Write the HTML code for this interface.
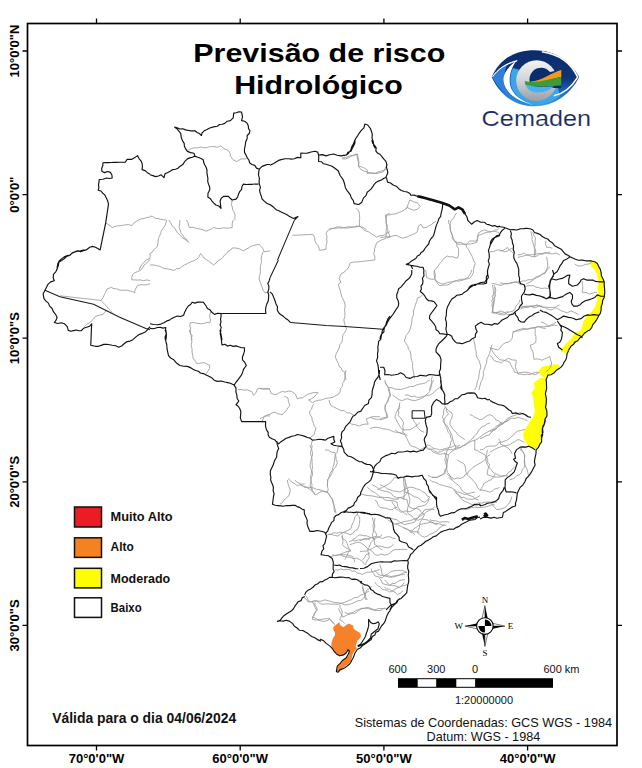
<!DOCTYPE html>
<html><head><meta charset="utf-8"><style>
html,body{margin:0;padding:0;background:#fff;}
body{width:642px;height:768px;overflow:hidden;position:relative;font-family:"Liberation Sans",sans-serif;}
svg{position:absolute;left:0;top:0;}
text{font-family:"Liberation Sans",sans-serif;}
</style></head><body>
<svg width="642" height="768" viewBox="0 0 642 768">
<defs>
<linearGradient id="eyeg" x1="0" y1="0" x2="0" y2="1">
<stop offset="0" stop-color="#0c2d6c"/><stop offset="0.5" stop-color="#0e3375"/><stop offset="0.72" stop-color="#1c62c0"/><stop offset="1" stop-color="#3b9fe8"/>
</linearGradient>
<linearGradient id="ringg" x1="0" y1="0" x2="0" y2="1">
<stop offset="0" stop-color="#f4f4f4"/><stop offset="0.5" stop-color="#d0d3d6"/><stop offset="1" stop-color="#9a9fa6"/>
</linearGradient>
</defs>
<!-- frame -->
<g stroke="#000" fill="none">
<rect x="27.5" y="23.5" width="589.5" height="722" stroke-width="1.7"/>
<path d="M96.5,18.5V23.5 M240.2,18.5V23.5 M383.9,18.5V23.5 M527.6,18.5V23.5 M96.5,745.5V750.5 M240.2,745.5V750.5 M383.9,745.5V750.5 M527.6,745.5V750.5 M22.5,51H27.5 M22.5,194.6H27.5 M22.5,338.2H27.5 M22.5,481.8H27.5 M22.5,625.4H27.5 M617,51H622 M617,194.6H622 M617,338.2H622 M617,481.8H622 M617,625.4H622" stroke-width="1.3"/>
</g>
<!-- axis labels -->
<g font-size="13" font-weight="bold" fill="#000" text-anchor="middle">
<text x="96.5" y="763">70°0'0"W</text>
<text x="240.2" y="763">60°0'0"W</text>
<text x="383.9" y="763">50°0'0"W</text>
<text x="527.6" y="763">40°0'0"W</text>
<text transform="translate(19,51) rotate(-90)">10°0'0"N</text>
<text transform="translate(19,194.6) rotate(-90)">0°0'0"</text>
<text transform="translate(19,338.2) rotate(-90)">10°0'0"S</text>
<text transform="translate(19,481.8) rotate(-90)">20°0'0"S</text>
<text transform="translate(19,625.4) rotate(-90)">30°0'0"S</text>
</g>
<!-- title -->
<g font-size="26.5" font-weight="bold" fill="#000">
<text x="193.3" y="62.2" textLength="252" lengthAdjust="spacingAndGlyphs">Previsão de risco</text>
<text x="234.2" y="93.8" textLength="168.5" lengthAdjust="spacingAndGlyphs">Hidrológico</text>
</g>
<!-- logo -->
<g id="logo">
<path d="M491.7,77.1 C499,60 514,50.2 534.4,50.2 C555,50.2 570,61 579.2,77.1 C570,95 554,106.3 534.4,106.3 C514,106.3 499,94 491.7,77.1Z" fill="url(#eyeg)"/>
<path d="M492.3,77.5 C497,71 503,66 508,63.5 C504,70 503.5,80 506,88 C509,96 520,103 534.4,106 C516,106 502,94 492.3,77.5Z" fill="#2a80da"/>
<path d="M516.5,60.5 C508,67 503,74 503.5,80 C504,90 513,101 537,105.8 C526,103 516,98 512,90 C508,83 509,71 516.5,60.5Z" fill="#fff"/>
<path d="M492.5,76.8 C498,69 505,64.5 517.2,60.7 C506,63 498,69 492.5,76.8Z" fill="none" stroke="#fff" stroke-width="0.9"/>
<path d="M513,68 C509,76 509.5,86 514,92 C519,99 528,103.5 537,105 C548,104 555,100 560,96 L556,80 Z" fill="#3aa6ea"/>
<path d="M541.8,51.7 C558,54 571,63 577.7,77.1 C571,88 563,94 553.8,95.8" fill="none" stroke="#fff" stroke-width="1.6"/>
<circle cx="536.6" cy="80.6" r="20.4" fill="url(#ringg)"/>
<path d="M536.6,68.6 A12,12 0 1 0 550,88 L561.3,88 L561.3,69.5 L550,72 A12,12 0 0 0 536.6,68.6Z" fill="#0b2d6b"/>
<path d="M531,81.5 C541,81 551,73 561.3,69.7 L561.3,77.1 C551,79 541,83 531,83.5Z" fill="#f39a1e"/>
<path d="M524.6,81 C536,84 548,79 561.3,77 L561.3,85.4 C549,86 536,87.5 525.5,85Z" fill="#3f9c32"/>
<path d="M525.5,85 C536,87.5 548,86.5 554,86.5 C549,91 542,92.6 536.6,92.6 C531,92.6 527,89 525.5,85Z" fill="#48b2ea"/>
<text x="481.6" y="126" font-size="22" fill="#162a5c" stroke="#fff" stroke-width="0.15" textLength="109.5" lengthAdjust="spacingAndGlyphs">Cemaden</text>
</g>
<path d="M538.6,370.5 L542.3,366.7 L549.8,364.9 L557.3,363.9 L560.1,366.7 L555.4,371.4 L549.8,375.1 L545.1,377.9 L540.5,375.1 Z" fill="#ffff00" stroke="none"/>
<path d="M534.9,381.7 L540.5,377.9 L546.1,377.9 L546.1,391.0 L546.1,404.1 L547.0,413.5 L544.2,424.7 L542.3,432.1 L541.4,440.0 L524.6,440.0 L523.6,432.1 L527.4,426.5 L533.0,417.2 L534.9,411.6 L533.9,404.1 L533.0,396.6 L531.1,392.9 L534.9,388.2 L533.9,383.6 Z" fill="#ffff00" stroke="none"/>
<path d="M530.5,420.0 L545.4,420.0 L542.6,429.3 L541.7,438.7 L539.8,444.3 L535.1,449.9 L528.6,446.2 L524.9,440.6 L523.0,435.0 L525.8,427.5 L529.5,423.7 Z" fill="#ffff00" stroke="none"/>
<path d="M589.8,260.6 L594.8,261.8 L598.6,266.2 L601.1,272.4 L602.9,278.7 L604.2,284.9 L604.8,292.4 L604.2,297.4 L602.3,303.6 L601.1,309.8 L598.6,316.0 L594.8,322.3 L589.8,330.0 L587.4,331.0 L582.4,336.0 L577.4,341.0 L571.2,346.0 L568.4,350.4 L566.4,353.2 L560.6,351.5 L561.2,350.0 L564.9,344.8 L571.2,338.5 L574.3,333.6 L581.1,330.0 L583.6,321.0 L587.4,314.8 L591.1,312.3 L594.8,307.3 L597.3,301.1 L596.1,297.4 L598.6,292.4 L597.3,287.4 L598.6,282.4 L597.9,278.7 L597.3,274.9 L594.8,269.9 L591.1,266.2 L589.8,261.2 Z" fill="#ffff00" stroke="none"/>
<path d="M333.6,626.8 L338.2,623.1 L339.2,622.1 L340.1,625.0 L343.4,627.3 L346.2,625.0 L349.0,623.6 L350.8,624.5 L353.2,625.4 L353.6,628.7 L357.4,631.5 L360.2,632.9 L361.1,636.2 L359.3,639.0 L357.4,640.8 L356.4,643.6 L355.5,646.4 L356.9,648.3 L354.6,651.1 L352.7,653.9 L351.8,657.7 L350.8,661.4 L348.0,664.2 L344.3,667.0 L340.6,669.8 L337.8,672.1 L336.4,670.7 L337.3,668.9 L337.8,666.1 L340.1,663.7 L342.4,660.9 L344.3,659.5 L346.6,657.2 L349.0,655.3 L349.0,653.0 L348.0,651.1 L347.1,650.2 L346.6,652.5 L344.3,654.9 L341.5,655.8 L338.7,654.9 L335.9,653.0 L334.0,650.2 L331.7,647.4 L331.2,644.6 L332.1,640.8 L333.1,638.0 L335.0,635.2 L335.0,632.4 L333.1,629.6 Z" fill="#f5822a" stroke="none"/>
<path d="M187.4,150.5 L189.8,149.2 L192.3,148.4 L194.9,147.7 L197.7,147.9 L200.5,146.9 L203.3,147.6 L206.1,147.7 L208.7,147.0 L211.3,146.7 L213.9,146.4 L216.6,147.3 L219.2,146.7 L221.0,145.8 L223.8,148.6 L228.5,150.5 L230.0,153.1 L230.4,156.1 L233.2,159.8 L236.9,161.7 L239.1,160.0 L241.6,158.9 L246.3,158.9 M232.2,200.0 L231.3,204.7 L232.4,207.1 L232.7,209.9 L234.1,212.1 L235.0,214.7 L234.8,217.4 L235.0,220.0 M105.7,222.9 L108.0,224.3 L110.2,225.9 L112.2,227.6 L115.8,226.1 L119.7,225.7 L122.6,225.4 L125.3,224.8 L128.7,224.6 L131.9,225.7 L133.6,223.3 L135.9,221.6 L138.4,220.1 L141.2,218.9 L144.1,218.5 L146.9,217.3 L150.0,217.3 M139.3,270.0 L140.3,267.0 L142.0,264.5 L144.0,262.1 L146.7,259.8 L150.0,258.4 M59.9,295.8 L62.6,296.1 L65.4,296.4 L68.1,296.7 L70.9,297.0 L73.6,297.4 L76.4,297.7 L79.1,298.0 L81.8,298.3 L84.6,298.6 L87.3,298.9 L90.1,299.2 L92.8,299.5 L95.5,299.8 L98.3,300.2 L101.0,300.5 L102.9,302.5 L104.8,304.5 L106.6,306.5 L108.5,308.6 L110.4,310.6 L112.2,312.6 M101.0,300.5 L102.9,297.9 L104.2,295.1 L105.7,292.3 L106.6,289.3 L111.3,287.4 L114.0,288.7 L117.0,288.9 L119.7,290.2 L123.5,290.2 L127.2,290.2 L129.8,290.9 L132.4,291.4 L134.7,293.0 L134.9,290.2 L136.2,287.9 L137.5,285.5 L140.6,284.7 L143.8,284.9 L147.0,284.8 L150.0,283.6 M84.2,326.6 L86.4,324.5 L89.1,323.0 L91.4,321.0 L93.6,318.9 L95.4,316.4 L99.1,315.2 L102.9,314.5 L104.5,312.3 L106.6,310.7 M150.0,259.3 L148.3,261.5 L146.3,263.4 L144.0,265.0 L142.5,268.0 L140.3,270.6 L137.7,271.6 L135.0,272.5 L132.8,274.3 L131.8,277.0 L131.9,279.9 L134.7,279.9 L137.5,280.1 L140.3,279.9 L143.5,280.7 L146.8,279.9 L150.0,280.8 M150.0,264.9 L153.8,265.0 L157.5,265.8 L160.1,266.4 L162.4,267.8 L165.0,268.6 L168.1,268.9 L171.2,269.7 L174.3,270.5 L176.5,268.7 L179.6,268.5 L181.8,266.7 L184.5,265.0 L187.4,263.6 L190.2,262.1 L193.5,260.8 L196.7,259.3 L199.1,256.8 L200.5,253.6 L202.4,255.4 L203.8,257.8 L206.1,259.3 L208.6,261.1 L211.0,263.0 L213.6,264.9 L216.1,263.0 L218.1,260.5 L221.0,259.3 L222.8,257.3 L224.4,255.2 L226.6,253.6 L228.0,251.2 L230.7,250.2 L232.2,248.0 L236.0,248.0 L239.7,249.0 L243.5,250.8 L245.9,249.2 L248.6,248.0 L250.9,246.2 L253.8,245.6 L256.5,244.7 L259.3,244.3 L261.2,246.7 L263.1,249.0 L264.0,251.8 L267.0,251.4 L270.0,250.8 M263.1,251.8 L261.7,255.4 L261.2,259.3 L261.5,262.4 L260.5,265.5 L260.3,268.6 L260.4,271.4 L260.1,274.2 L259.2,277.0 L259.3,279.8 L260.3,282.3 L261.1,284.8 L262.1,287.3 L263.2,290.3 L265.0,292.9 L268.7,292.0 M150.0,253.6 L152.3,252.2 L153.7,249.8 L155.7,248.2 L157.5,246.2 L158.0,242.4 L158.4,238.7 L159.4,236.2 L160.6,233.8 L161.2,231.2 L163.0,228.4 L165.0,225.6 L165.9,222.8 L166.8,220.0 M168.7,220.0 L170.6,222.5 L171.9,225.4 L174.3,227.5 L175.9,230.1 L177.6,232.8 L179.9,235.0 L182.3,237.8 L185.5,239.6 L189.3,242.4 M179.9,220.0 L179.8,223.8 L179.0,227.5 L180.1,230.0 L180.9,232.8 L182.7,235.0 L183.9,237.4 L186.3,239.0 L187.4,241.5 M186.4,220.0 L187.9,222.3 L188.4,225.0 L189.3,227.5 L193.1,227.3 L196.7,228.4 L200.0,229.0 L203.1,229.7 L206.1,231.2 L208.7,230.2 L211.2,229.1 L213.6,227.5 L217.2,228.5 L221.0,228.4 L223.8,227.7 L226.7,228.3 L229.5,227.9 L232.2,227.5 L232.2,223.7 L233.2,220.0 M210.7,311.6 L209.9,314.3 L209.6,317.1 L210.5,320.0 L209.8,322.8 L206.6,322.4 L203.6,323.6 L200.5,323.7 L197.0,323.4 L193.7,322.4 L190.2,322.8 L189.7,325.9 L190.7,329.0 L190.2,332.1 L190.9,334.7 L191.4,337.4 L192.1,340.0 M342.0,158.7 L345.3,158.9 L348.5,157.8 L351.2,156.2 L353.9,154.8 L356.9,154.0 L357.3,157.3 L357.9,160.6 L358.7,163.3 L358.8,166.2 L361.8,166.9 L364.6,168.2 L367.2,169.9 L367.2,173.6 L370.9,173.0 L374.7,173.6 L377.0,172.3 L379.6,171.5 L382.1,170.8 L386.8,169.0 M356.0,208.2 L358.8,211.0 L359.5,214.7 L359.7,218.5 L359.3,222.2 L359.7,226.0 L361.8,227.6 L363.5,229.7 L366.0,231.0 L368.7,231.8 L370.9,233.5 L373.9,235.1 L376.5,237.2 L380.1,235.6 L384.0,235.3 L386.8,233.1 L390.0,231.6 M292.4,235.3 L295.4,235.2 L298.3,235.1 L301.2,234.9 L304.2,234.8 L307.1,234.7 L310.1,234.5 L313.0,234.4 L314.6,237.5 L314.9,240.9 L316.4,243.9 L318.6,246.5 L319.5,250.3 L322.8,249.9 L326.1,249.3 L326.1,245.5 L327.0,241.9 L326.7,239.1 L327.0,236.2 L326.1,233.5 L327.5,230.8 L329.8,228.8 L333.7,228.3 L337.3,226.9 L340.1,227.0 L342.9,227.4 L345.7,228.1 L348.5,227.9 L352.2,227.2 L356.0,226.9 L359.7,226.0 M390.0,212.9 L386.8,214.8 L386.3,218.5 L385.9,222.2 L386.5,226.0 L387.8,229.7 L387.8,232.4 L389.5,234.6 L390.0,237.2 M390.0,237.2 L386.9,237.7 L384.0,239.1 L381.4,240.0 L378.9,241.4 L376.5,242.8 L375.7,245.7 L374.7,248.4 L374.4,251.3 L373.7,254.0 L374.9,256.9 L374.7,260.0 M380.0,237.3 L383.8,237.2 L387.5,236.4 L391.3,236.4 L395.0,235.4 L397.6,235.8 L399.9,237.3 L402.4,238.2 L404.9,237.3 L407.6,236.8 L409.9,235.4 L412.6,234.6 L415.1,233.4 L417.4,231.7 L418.0,228.9 L418.3,226.1 L421.1,224.2 L423.0,227.9 L426.0,227.6 L428.6,226.1 L431.6,224.4 L434.2,222.3 L436.1,221.4 M385.6,237.3 L386.4,234.5 L386.1,231.6 L386.3,228.8 L387.5,226.1 L386.5,223.4 L386.3,220.5 L385.5,217.8 L385.6,214.9 L388.8,215.0 L391.8,214.3 L395.0,213.9 L398.1,212.9 L401.3,211.6 L404.3,210.2 L407.1,207.4 L410.3,209.0 L413.6,210.2 L417.4,209.3 L420.2,206.4 L417.4,202.7 L413.6,201.8 L409.9,199.9 L408.0,204.6 L406.2,209.3 M456.6,213.0 L454.8,215.5 L453.5,218.4 L451.0,220.5 L450.3,223.5 L450.0,226.7 L450.1,229.8 L451.3,232.6 L452.4,235.4 L453.4,238.3 L454.8,241.0 L456.6,243.2 L456.9,246.2 L458.5,248.5 L458.6,251.7 L458.5,254.8 L457.6,257.9 L454.9,257.7 L452.5,256.6 L449.8,256.9 L447.3,256.0 L445.2,257.6 L443.0,259.2 L441.7,261.6 L439.8,263.5 L438.1,266.1 L436.1,268.5 L434.2,270.9 L434.2,274.1 L434.4,277.2 L435.1,280.3 L438.3,282.3 L441.7,284.0 L444.8,283.6 L447.8,282.2 L451.0,282.1 L453.7,281.2 L456.6,280.9 L459.5,281.1 L462.2,280.3 L465.9,279.1 L469.7,278.4 L471.7,275.7 L473.5,272.8 L473.4,269.5 L474.1,266.4 L475.3,263.5 L473.6,260.8 L472.8,257.7 L471.4,254.9 L469.7,252.2 L468.7,249.6 L466.9,247.4 L466.0,244.8 L467.9,242.9 L469.7,241.0 L473.5,241.0 L477.2,241.0 L477.6,237.3 L478.1,233.6 L481.1,231.2 L484.7,229.8 L488.3,231.3 L492.1,231.7 L494.4,230.0 L497.5,229.8 L499.6,227.9 M454.8,241.0 L457.4,242.6 L460.6,242.2 L463.2,243.8 L466.0,244.8 M500.0,251.1 L502.8,250.5 L505.2,249.1 L507.5,247.4 L509.0,249.6 L511.1,251.3 L513.1,253.0 M517.8,254.9 L521.2,254.5 L524.3,253.0 L526.5,254.8 L529.3,255.5 L531.8,256.7 L534.6,256.6 L537.4,255.8 L539.6,254.2 L542.5,254.3 L544.9,253.0 L548.6,253.4 L552.3,253.9 L556.1,253.0 L559.8,254.9 M532.7,232.4 L533.8,235.4 L535.5,238.0 L535.0,241.1 L535.2,244.3 L534.6,247.4 L535.7,251.0 L535.5,254.9 M545.8,240.8 L545.6,244.2 L546.7,247.4 L549.6,247.3 L552.3,248.3 M546.7,256.7 L547.1,259.8 L547.6,262.9 L547.7,266.1 L547.0,268.7 L545.5,270.9 L544.9,273.6 L542.0,274.2 L540.0,276.4 L537.4,277.3 L534.4,279.0 L531.8,281.0 L529.1,282.7 L526.2,283.8 M500.0,282.9 L503.7,283.4 L507.5,283.8 L511.2,282.7 L515.0,282.0 L518.0,282.9 L520.6,284.8 M524.3,286.6 L527.4,285.8 L530.5,285.6 L533.6,285.7 L535.9,287.2 L538.6,287.6 L541.1,288.5 L544.9,288.1 L548.6,288.5 M574.8,264.2 L578.5,266.1 L582.4,265.7 L586.0,264.2 L589.0,264.0 L591.6,262.3 M582.2,281.0 L582.3,283.8 L582.8,286.6 L582.7,289.4 L582.2,292.2 L586.1,292.6 L589.7,294.1 L593.4,292.9 L597.2,292.2 M520.6,309.1 L524.2,307.5 L528.0,307.2 L531.1,306.2 L534.2,305.6 L537.4,305.3 L540.5,306.1 L543.5,307.1 L546.7,307.2 L550.5,307.6 L554.2,307.2 L556.8,308.3 L559.2,309.6 L561.7,310.9 L564.5,311.9 L567.3,312.8 L571.0,310.9 L573.6,312.0 L576.1,313.2 L578.5,314.7 M500.0,310.9 L502.8,311.6 L505.1,313.1 L507.5,314.7 L510.5,314.4 L513.1,312.8 M541.1,322.1 L543.9,322.9 L546.1,324.6 L548.6,325.9 L551.2,324.8 L553.8,323.9 L556.1,322.1 M342.4,157.7 L345.3,157.7 L348.0,156.7 L350.7,155.6 L353.6,155.8 L357.4,153.9 L358.3,158.6 L359.0,162.3 L358.3,166.1 L361.1,169.8 L363.8,171.0 L366.7,171.7 L369.7,172.9 L373.0,172.9 L376.1,173.6 L379.8,172.7 L383.6,171.7 L385.4,167.9 L388.2,164.2 M329.3,230.0 L332.3,228.5 L335.5,228.3 L338.7,227.8 L341.9,228.1 L345.0,227.6 L348.0,226.8 L351.2,227.0 L354.3,226.9 L357.4,225.9 L360.6,226.8 L363.8,227.8 L366.7,229.6 M374.7,260.0 L371.9,260.3 L369.1,260.6 L366.3,260.9 L363.5,261.2 L360.7,261.6 L357.9,261.9 L354.1,262.0 L350.4,262.8 L348.5,267.5 L346.4,270.1 L343.9,272.3 L341.0,274.0 L339.2,278.7 L341.0,282.4 L338.2,284.3 L339.1,287.1 L340.1,289.9 L340.9,293.7 L342.0,297.4 L343.5,300.1 L344.8,303.0 L345.2,306.1 L344.6,309.2 L344.8,312.3 L345.0,316.2 L343.8,319.8 L344.8,324.5 L346.6,329.2 L345.0,332.1 L342.9,334.8 L342.5,338.5 L342.0,342.2 L339.9,344.7 L339.2,347.9 L337.7,350.9 L336.1,353.9 L335.4,357.2 L336.7,360.3 L338.3,363.3 L339.2,366.5 L341.3,368.1 L342.4,370.8 L344.8,372.1 L344.8,374.8 L345.7,377.3 L345.7,380.0 M434.2,270.0 L434.9,272.8 L435.5,275.6 L434.9,278.5 L436.1,281.2 L437.8,283.7 L439.8,285.9 L443.5,285.1 L447.3,285.0 L449.9,284.0 L452.2,282.2 L454.8,281.2 L457.8,280.3 L460.9,279.2 L464.1,279.3 L467.9,277.5 L469.4,275.2 L470.9,272.8 L471.6,270.0 M425.8,270.0 L426.1,273.8 L426.7,277.5 L430.3,279.1 L434.2,279.3 M423.0,294.3 L420.6,296.8 L417.4,298.0 L416.8,301.3 L415.5,304.3 L414.6,307.4 L413.4,311.0 L413.6,314.9 L412.0,318.4 L411.8,322.3 L411.0,326.1 L409.9,329.8 L408.3,332.8 L406.2,335.4 L405.3,338.3 L404.3,341.0 L406.2,343.8 L408.0,346.6 L408.4,349.4 L410.4,351.5 L410.8,354.1 L411.0,357.3 L411.7,360.4 L412.7,363.5 L412.5,366.6 L412.9,369.7 L413.6,372.8 L414.0,375.6 L414.6,378.4 M473.5,339.2 L474.3,342.2 L475.0,345.3 L475.3,348.5 L476.2,351.6 L476.2,354.8 L477.2,357.9 L479.0,360.7 L480.1,363.9 L480.9,367.2 L479.6,370.8 L479.1,374.7 L478.5,378.5 L477.2,382.1 L476.9,385.0 L476.0,387.6 L474.4,390.0 M492.1,344.8 L491.1,347.5 L490.3,350.4 L489.6,353.3 L488.4,356.0 L486.8,359.5 L486.5,363.5 L485.1,366.1 L484.7,369.1 L483.2,371.5 L483.5,374.4 L483.0,377.1 L482.3,379.7 L480.9,382.1 L480.3,384.8 L479.4,387.3 L479.1,390.0 M494.0,285.0 L495.0,287.7 L495.9,290.6 L494.4,293.6 L492.1,296.2 L493.2,299.9 L494.0,303.6 L493.2,306.7 L492.5,309.8 L492.1,313.0 L494.9,312.7 L497.5,312.3 L500.0,311.1 M432.3,376.5 L431.5,379.6 L431.6,382.9 L430.5,385.9 L429.5,390.0 M490.0,348.0 L493.8,348.8 L497.5,349.9 L499.7,348.4 L501.2,346.1 L503.1,344.3 L505.4,342.7 L508.3,342.2 L510.6,340.6 L512.4,337.7 L512.5,334.1 L514.3,331.2 L516.9,331.0 L519.6,330.6 L522.1,329.7 L524.7,329.5 L527.4,329.3 L531.0,327.9 L534.9,327.5 L537.6,326.8 L540.4,326.6 L543.3,326.9 L546.1,326.5 L548.9,326.5 L551.6,325.6 L554.4,325.1 L557.3,325.6 M534.9,327.5 L535.3,330.5 L535.0,333.5 L535.9,336.4 L535.9,339.4 L535.8,342.4 L533.2,344.2 L530.2,345.2 L531.2,348.7 L533.0,351.8 L533.4,355.5 L533.9,359.3 L536.8,358.9 L539.6,359.3 L542.3,360.2 L544.8,358.8 L547.4,357.8 L549.8,356.4 L550.5,359.8 L551.7,363.0 L550.8,366.5 L548.9,369.5 L546.1,371.4 M490.0,355.5 L492.3,357.5 L493.7,360.2 L496.1,361.4 L498.8,361.9 L501.2,363.0 L503.5,361.2 L506.0,359.6 L508.7,358.3 L512.3,359.9 L516.2,360.2 L516.0,363.5 L515.2,366.7 L516.1,369.3 L517.3,371.6 L518.0,374.2 L521.2,374.1 L524.3,374.8 L527.4,374.2 L530.3,374.5 L533.0,373.1 L535.7,372.4 L538.6,372.3 M490.0,432.1 L492.6,430.5 L494.4,428.1 L496.5,426.0 L499.3,424.7 L502.0,423.8 L504.0,421.8 L506.6,420.9 L508.7,419.1 L511.8,418.3 L515.0,418.4 L518.0,417.2 L521.2,418.4 L524.5,419.2 L527.4,420.9 M189.3,330.0 L190.2,333.0 L192.1,335.6 L191.3,338.7 L191.9,341.9 L191.1,345.0 L192.0,348.6 L192.1,352.4 L192.7,355.2 L193.0,358.0 L195.8,361.8 L196.7,363.6 L200.5,363.2 L204.2,362.7 L207.1,364.0 L209.8,365.5 L209.4,368.5 L207.9,371.1 L206.1,373.9 M237.9,389.8 L241.0,389.4 L244.1,390.2 L247.2,389.8 L251.9,391.7 L253.7,395.4 L256.1,392.4 L257.5,388.9 L260.6,388.2 L263.7,389.0 L266.9,389.3 L270.0,388.9 M262.1,421.6 L264.0,416.9 L266.9,415.8 L270.0,416.0 M260.0,388.7 L263.1,389.1 L266.2,388.2 L269.3,388.7 L271.2,393.4 L273.9,394.4 L276.8,394.3 L279.5,392.6 L282.4,391.5 L285.5,392.0 L288.7,391.0 L291.8,391.5 L295.5,394.3 L297.4,399.0 L299.9,398.0 L302.6,397.7 L304.9,396.2 L307.5,394.4 L310.5,393.4 L314.2,392.5 L317.9,392.4 L316.1,394.8 L314.2,397.1 L311.5,398.7 L308.6,399.9 L312.3,402.7 L315.3,401.1 L318.4,400.4 L321.7,399.9 L325.3,398.5 L329.2,398.0 L332.5,397.4 L335.5,395.8 L338.5,394.3 L340.2,391.9 L340.3,388.9 L342.3,386.6 L342.5,383.6 L344.1,381.2 L344.6,378.4 L345.2,375.6 L345.3,372.8 L346.0,370.0 M329.2,399.9 L329.6,402.9 L331.0,405.5 L333.5,406.8 L336.0,408.1 L338.5,409.3 L341.1,410.7 L344.3,410.6 L346.7,412.8 L349.7,413.0 L353.5,414.9 M260.0,418.6 L262.6,417.5 L264.9,416.0 L267.5,414.9 L270.1,414.3 L272.3,412.7 L275.0,412.1 L277.2,413.7 L279.9,414.0 L282.4,414.9 L284.1,412.4 L286.5,410.4 L288.0,407.8 L289.9,405.5 L288.5,401.9 L288.0,398.0 L284.3,396.2 M314.2,403.6 L312.3,405.9 L311.7,409.0 L309.5,411.1 L310.0,414.4 L311.8,417.2 L312.3,420.5 L313.4,423.1 L314.2,425.8 L316.1,427.9 L315.0,431.2 L314.2,434.5 L310.5,437.3 M349.7,423.3 L352.8,424.4 L356.0,424.9 L359.1,426.1 L362.0,424.7 L365.2,424.1 L368.4,424.2 L367.0,421.6 L366.5,418.6 L369.4,417.8 L372.1,416.7 L374.8,416.6 L377.4,416.7 L380.0,416.7 M312.3,441.0 L311.4,443.6 L312.1,446.3 L311.6,448.9 L310.6,451.5 L310.5,454.1 L311.6,456.8 L312.1,459.6 L312.1,462.5 L312.3,465.3 L312.5,468.2 L311.6,471.0 L311.3,473.8 L310.5,476.5 L310.7,479.3 L311.1,481.9 L312.0,484.6 L311.8,487.3 L312.3,490.0 M338.5,446.6 L337.6,449.5 L337.2,452.4 L335.1,454.8 L334.8,457.9 L334.5,461.0 L334.0,464.2 L332.9,467.2 L332.2,470.5 L330.2,473.3 L329.2,476.5 L328.0,479.5 L327.5,482.7 L327.3,485.9 M288.0,478.4 L290.0,480.2 L291.8,482.1 L294.8,483.7 L297.4,485.9 L300.9,484.2 L304.9,484.0 M385.0,381.9 L386.5,384.9 L388.7,387.5 L389.6,391.2 L390.6,395.0 L389.6,397.6 L387.9,399.8 L386.8,402.4 L385.2,406.0 L385.0,409.9 L386.3,413.5 L386.8,417.4 L382.9,417.8 L379.3,419.3 L376.1,419.3 L373.0,418.4 L370.0,417.4 M388.7,387.5 L391.9,387.7 L394.9,389.1 L398.0,389.3 L401.3,389.4 L404.3,388.5 L407.4,387.5 L410.3,386.5 L413.5,386.5 L416.3,385.0 L419.3,384.1 L422.3,383.7 L425.1,383.0 L427.4,381.4 L429.8,380.0 M392.4,395.0 L394.6,396.6 L397.0,398.0 L399.1,399.8 L401.8,400.6 L404.6,399.6 L407.4,398.7 L411.0,400.1 L414.9,400.6 L418.1,399.6 L421.3,398.6 L424.2,396.8 L426.0,394.9 L428.2,393.3 L429.8,391.2 L430.8,388.4 L431.4,385.5 L432.2,382.7 L433.6,380.0 M399.9,402.4 L399.4,405.0 L399.8,407.8 L398.2,410.2 L398.9,413.0 L398.0,415.5 L400.5,417.6 L402.2,420.1 L403.6,423.0 L402.7,426.0 L403.3,429.2 L402.7,432.3 L405.4,433.8 L407.4,436.1 M370.0,428.6 L373.0,427.6 L376.2,427.3 L379.3,427.7 L382.4,428.6 L385.5,429.1 L388.7,429.5 L391.1,430.7 L393.6,431.7 L396.2,432.3 L400.1,432.6 L403.6,434.2 M413.0,419.3 L414.3,421.7 L416.0,423.8 L416.8,426.5 L418.6,428.6 L421.1,430.9 L424.2,432.3 M426.1,447.3 L428.1,449.2 L431.1,449.5 L432.8,452.0 L435.4,452.9 L437.9,453.9 L440.6,454.3 L443.4,453.4 L446.0,454.0 L448.5,454.8 L450.6,452.4 L453.1,450.5 L456.0,449.2 L458.7,448.4 L461.2,447.1 L463.5,445.4 L466.1,443.7 L468.7,442.1 L470.9,439.8 L472.9,438.1 L474.4,435.8 L476.5,434.2 L477.9,431.4 L479.8,428.9 L482.1,426.7 L484.9,425.8 L487.2,423.8 L490.0,423.0 M448.5,454.8 L448.1,457.9 L447.4,461.0 L446.6,464.1 L446.7,467.4 L445.7,470.4 L444.8,473.5 L442.4,475.0 L439.6,475.7 L437.3,477.2 L434.5,477.4 L431.7,477.2 L427.9,475.3 M444.8,406.2 L446.3,408.5 L446.6,411.5 L448.5,413.6 L446.6,416.1 L444.3,418.3 L442.9,421.1 L444.6,423.7 L447.2,425.7 L448.5,428.6 L449.9,431.0 L451.1,433.5 L452.2,436.1 L452.8,439.9 L454.1,443.6 L455.3,446.3 L456.0,449.2 M446.6,473.5 L448.9,475.6 L451.6,477.2 L454.1,479.1 L457.1,478.0 L460.4,478.4 L463.5,477.2 L464.9,474.9 L467.5,473.8 L468.7,471.2 L470.9,469.7 L473.0,467.3 L475.7,465.6 L478.4,464.1 L481.1,462.6 L483.8,460.9 L485.9,458.5 L487.4,456.1 L490.0,454.8 M448.5,477.2 L450.8,479.1 L453.2,480.9 L455.2,483.2 L457.9,484.7 L460.1,486.9 L461.6,489.7 L463.5,492.1 L466.1,493.2 L468.2,495.1 L470.9,495.9 L473.6,496.9 L475.6,499.2 L478.4,500.0 M371.9,484.7 L374.4,485.8 L376.8,487.1 L378.7,489.1 L381.2,490.3 L385.0,491.2 L388.7,492.1 L391.4,493.6 L393.2,496.0 L396.1,497.3 L398.0,499.6 M403.6,477.2 L403.4,480.0 L403.8,482.8 L403.9,485.6 L404.6,488.4 L404.2,491.3 L404.3,494.2 L404.0,497.1 L403.6,500.0 M480.0,438.7 L483.1,437.5 L486.0,435.7 L489.3,435.0 L491.0,432.9 L492.8,430.9 L495.5,429.8 L496.8,427.5 L498.9,425.9 L500.1,423.3 L502.4,421.9 M480.0,449.9 L483.4,449.3 L486.0,446.9 L489.3,446.2 L492.1,446.0 L495.0,446.2 L497.3,444.8 L498.7,442.4 L502.5,441.9 L506.2,440.6 L508.9,439.0 L511.1,436.7 L513.6,435.0 L515.2,432.8 L517.4,431.2 L521.2,430.5 L524.9,429.3 M498.7,438.7 L500.2,441.3 L500.6,444.3 L503.2,445.2 L505.6,446.6 L508.0,448.0 L510.5,450.5 L511.8,453.6 M487.5,449.9 L486.7,453.7 L485.6,457.4 L486.1,461.2 L487.5,464.9 L489.1,467.5 L491.2,469.8 L493.1,472.3 L495.5,473.8 L498.1,474.8 L500.6,476.1 L504.3,475.5 L508.0,476.1 M521.1,448.0 L522.2,450.6 L523.7,453.0 L524.9,455.5 L524.5,458.6 L524.2,461.7 L524.9,464.9 L526.7,468.6 L527.8,472.3 L528.6,476.1 M480.0,491.0 L481.3,488.6 L482.8,486.2 L483.7,483.6 L486.2,482.2 L488.5,480.7 L491.2,479.8 L493.4,477.2 L495.0,474.2 M491.2,502.2 L492.6,505.1 L494.6,507.5 L496.8,509.7 L500.6,509.1 L504.3,507.9 L506.5,506.4 L508.2,504.3 L509.9,502.2 L511.0,499.5 L511.8,496.6 M287.4,480.0 L287.9,483.3 L288.8,486.4 L290.2,489.3 L289.8,492.2 L289.3,495.0 L287.6,497.0 L285.5,498.6 L283.6,500.6 L282.2,502.8 L279.9,504.3 M294.9,480.0 L297.1,482.3 L300.0,483.6 L302.3,485.6 L304.6,487.3 L307.5,487.8 L309.8,489.3 L311.8,491.1 L313.8,492.8 L315.4,495.0 L317.9,493.6 L320.2,492.0 L322.9,491.2 L325.9,491.4 L328.5,493.1 L330.1,496.1 L332.2,498.7 L333.5,502.4 L334.1,506.2 L335.4,509.8 L336.0,513.6 M328.5,534.2 L331.7,534.5 L334.7,535.4 L337.9,536.1 L340.6,534.1 L343.5,532.3 L346.0,531.3 L348.5,530.1 L350.9,528.6 L351.7,525.7 L352.8,523.0 L354.3,520.4 L354.7,517.4 L357.5,513.6 M341.6,536.1 L343.0,538.9 L345.9,540.7 L347.2,543.6 L348.0,546.3 L349.1,548.8 L350.9,551.0 L347.1,551.5 L343.5,552.9 L339.7,554.8 M349.1,541.7 L352.1,540.5 L355.4,540.9 L358.4,539.8 L361.3,540.0 L364.2,539.1 L367.1,539.1 L370.0,539.8 M332.2,554.8 L335.0,555.4 L337.9,555.0 L340.7,554.4 L343.5,554.8 L346.7,554.8 L349.8,555.5 L352.8,556.6 L354.1,559.3 L354.7,562.2 M362.1,560.4 L364.4,557.8 L365.9,554.8 L370.0,552.9 M362.1,584.7 L363.3,588.4 L364.0,592.1 L365.1,594.6 L364.7,597.5 L365.9,600.0 M360.0,493.7 L363.1,494.6 L366.1,495.4 L369.3,495.6 L372.5,496.0 L375.6,496.6 L378.7,497.5 L381.8,497.2 L384.9,497.6 L388.0,497.5 L391.1,498.3 L394.2,499.1 L397.4,499.3 L399.6,497.5 L402.5,497.2 L404.9,495.6 L407.2,493.1 L408.6,490.0 M391.8,501.2 L393.0,503.7 L394.9,505.9 L395.5,508.7 L398.5,510.3 L401.1,512.4 L403.8,511.2 L406.7,511.0 L409.6,511.7 L412.3,510.6 L415.2,508.8 L417.9,506.8 L421.7,506.1 L425.4,505.0 L427.7,502.4 L429.2,499.3 M395.5,523.6 L399.4,523.3 L403.0,521.8 L406.1,521.3 L409.3,520.7 L412.3,519.9 L414.9,518.8 L417.5,517.7 L419.8,516.2 L422.2,514.9 L424.6,513.6 L426.6,511.6 L429.2,510.6 L432.1,508.9 L434.8,506.8 M403.0,527.4 L406.1,528.6 L409.1,530.2 L412.3,531.1 L413.8,528.8 L416.1,527.4 L418.4,525.7 L420.7,524.3 L423.6,523.6 L427.4,523.1 L431.0,521.8 L434.6,523.3 L438.5,523.6 L442.2,524.8 L446.0,525.5 M375.0,518.0 L374.5,521.2 L373.2,524.2 L373.1,527.4 L373.9,530.1 L375.5,532.4 L376.8,534.9 L375.2,537.6 L373.3,540.0 L371.2,542.3 L370.1,544.9 L369.0,547.4 L367.5,549.8 L368.5,553.5 L369.3,557.3 L367.9,559.7 L366.3,562.0 L365.6,564.8 M360.0,540.5 L363.6,538.9 L367.5,538.6 L371.2,537.8 L375.0,536.7 L378.9,537.0 L382.4,538.6 L386.0,537.1 L389.9,536.7 L392.6,538.1 L395.5,538.6 M360.0,551.7 L363.1,551.2 L366.4,551.1 L369.3,549.8 L372.4,548.5 L375.3,546.6 L378.7,546.1 L381.8,546.5 L384.9,547.5 L388.0,547.9 L391.2,546.6 L393.6,544.2 M371.2,568.5 L371.8,571.3 L373.7,573.5 L375.0,576.0 L378.7,576.8 L382.4,577.9 L384.6,575.5 L387.5,574.3 L389.9,572.2 L393.5,570.9 L397.4,570.4 L400.6,570.5 L403.8,570.9 L406.7,572.2 M378.7,577.9 L381.2,580.2 L382.4,583.5 L386.1,584.7 L389.9,585.3 L392.1,583.6 L395.2,583.5 L397.4,581.6 L401.0,580.1 L404.9,579.7 M384.3,587.2 L386.5,588.9 L389.5,589.2 L391.8,590.9 L395.0,592.2 L397.4,594.7 L400.4,593.1 L403.0,590.9 M453.5,490.0 L455.6,491.6 L456.9,494.0 L459.4,495.3 L460.9,497.5 L463.8,497.3 L466.5,498.8 L469.3,499.2 L472.1,499.3 L475.0,498.6 L477.5,497.2 L480.0,495.6 M303.6,597.4 L306.2,599.2 L308.0,601.8 L310.9,601.9 L313.8,600.9 L316.7,600.7 L318.7,602.5 L321.1,604.0 L323.7,604.2 L326.3,603.9 L328.9,603.8 L331.5,604.4 L334.1,604.0 L337.1,604.3 L340.0,603.7 L342.9,602.9 L345.8,601.9 L348.6,600.4 L351.6,599.6 L354.2,597.6 L357.7,597.4 L360.3,595.3 L363.4,594.1 L366.3,592.8 L369.0,590.9 M312.3,601.8 L314.0,604.6 L315.1,607.7 L316.7,610.5 L314.6,613.1 L313.3,616.1 L312.3,619.3 L315.0,619.9 L317.8,620.1 L320.5,620.8 L323.2,621.4 L326.7,620.9 L329.8,619.3 L332.1,621.3 L334.1,623.6 M338.5,608.3 L339.7,611.4 L341.3,614.2 L342.9,617.1 L347.2,614.9 L350.4,614.0 L353.2,612.4 L356.0,610.5 L358.8,609.5 L361.6,608.4 L364.7,608.3 L367.3,608.4 L369.9,609.1 L372.5,609.8 L375.1,610.6 L377.8,610.5 L380.8,610.4 L383.4,608.4 L386.5,608.3 M367.3,487.4 L369.7,489.4 L372.0,491.4 L375.1,492.5 L377.3,494.8 L379.7,496.6 L382.4,498.0 L384.7,499.8 L387.8,500.5 L391.1,500.4 L394.2,501.0 L397.2,502.3 L397.3,505.0 L398.3,507.5 L399.7,509.8 L402.2,511.4 L404.6,513.2 L407.2,514.8 M377.3,489.8 L379.6,488.3 L382.4,487.7 L384.7,486.0 L387.2,484.9 L389.6,483.5 L391.2,481.4 L393.2,479.6 L394.7,477.4 L398.4,478.1 L402.2,477.4 M404.7,477.4 L405.0,480.4 L405.4,483.4 L405.1,486.4 L405.2,489.3 L404.7,492.3 L407.4,492.8 L409.9,493.7 L412.1,495.4 L414.4,496.8 L417.1,497.3 L419.7,498.9 L421.7,501.2 L424.6,502.3 L427.5,500.2 L429.6,497.3 M374.8,499.8 L377.0,501.9 L378.0,504.9 L379.8,507.3 L383.1,508.0 L386.5,508.4 L389.7,509.8 L392.4,509.6 L394.6,507.8 L397.2,507.3 M387.2,517.3 L390.5,518.2 L393.8,519.1 L397.2,519.8 L399.3,522.0 L402.0,523.3 L404.7,524.7 L408.0,523.7 L411.3,523.0 L414.6,522.2 L415.9,519.5 L418.5,517.6 L419.6,514.8 L422.6,512.8 L424.6,509.8 L427.9,509.4 L431.3,509.1 L434.6,509.8 M397.2,497.3 L400.6,497.8 L403.9,498.8 L407.2,499.8 L407.4,502.5 L408.3,505.0 L409.7,507.3 L412.9,508.6 L416.5,508.3 L419.6,509.8 L421.8,512.6 L424.6,514.8 L423.1,517.1 L421.9,519.7 L420.2,521.9 L419.6,524.7 L419.4,527.4 L418.5,529.9 L417.1,532.2 L419.4,534.2 L421.8,536.1 L424.6,537.2 L427.2,536.2 L429.5,534.4 L432.1,533.6 L434.6,532.2 L437.3,530.7 L439.2,528.0 L441.9,526.4 L444.5,524.7 M409.7,532.2 L413.0,531.8 L416.3,531.6 L419.6,532.2 M429.6,519.8 L432.9,520.6 L436.4,520.9 L439.6,522.2 L442.9,521.9 L446.2,521.7 L449.5,522.2 M327.4,534.7 L330.6,534.3 L333.5,532.7 L336.8,533.2 L339.9,532.2 L343.3,532.6 L346.7,533.2 L349.8,534.7 L352.7,533.6 L354.6,531.0 L357.3,529.7 L358.8,526.6 L359.5,523.2 L359.8,519.8 L359.5,517.1 L357.6,514.9 L357.3,512.3 M342.4,534.7 L342.4,538.0 L343.0,541.3 L342.4,544.7 L344.5,546.9 L347.1,548.4 L349.8,549.7 L348.4,552.1 L347.4,554.7 L346.3,557.2 L344.9,559.6 M352.3,539.7 L355.1,538.4 L357.3,536.3 L359.8,534.7 L363.1,535.7 L366.6,535.8 L369.8,537.2 L372.5,538.1 L374.8,539.7 L376.9,537.5 L379.9,536.6 L382.2,534.7 M372.3,517.3 L373.0,520.6 L374.5,523.8 L374.8,527.2 L373.4,529.5 L373.4,532.3 L372.3,534.7 L373.2,538.0 L374.4,541.2 L374.8,544.7 L377.4,546.0 L379.5,548.4 L382.2,549.7 M349.8,544.7 L353.1,543.6 L356.4,542.5 L359.8,542.2 L362.3,544.0 L365.0,545.7 L366.9,548.3 L369.8,549.7 L372.7,551.7 L374.8,554.6 L377.9,555.4 L381.0,554.0 L384.1,555.2 L387.2,554.6 L389.9,553.2 L392.0,551.0 L394.7,549.7 L397.8,549.6 L400.9,549.3 L404.0,549.3 L407.2,549.7 M329.9,557.1 L333.1,555.9 L336.5,555.3 L339.9,554.6 L343.0,556.2 L346.3,557.0 L349.8,557.1 L353.0,558.6 L356.6,558.2 L359.8,559.6 L362.5,561.9 L364.8,564.6 M334.9,569.6 L337.9,570.2 L340.9,568.9 L343.9,569.9 L346.9,569.3 L349.8,569.6 L352.1,571.3 L355.1,570.9 L357.1,573.0 L359.9,573.4 L362.3,574.6 L364.6,573.2 L367.1,572.2 L369.8,572.1 L373.2,571.7 L376.4,570.5 L379.8,569.6 M379.8,564.6 L381.0,567.8 L381.5,571.2 L382.2,574.6 L385.4,576.0 L389.0,575.8 L392.2,577.1 L395.3,576.6 L398.3,575.3 L401.5,574.7 L404.7,574.6 M374.8,582.1 L376.3,584.2 L378.3,586.0 L380.7,587.3 L382.2,589.5 L384.9,589.8 L387.4,590.6 L389.7,592.0 L392.3,590.9 L394.7,589.5 L397.0,588.0 L399.7,587.0 L402.0,585.8 L404.7,585.5 L407.2,584.5 M362.3,587.0 L362.8,589.6 L363.5,592.2 L364.8,594.5 L365.9,597.3 L367.3,600.0 M310.0,445.0 L311.2,448.2 L312.3,451.5 L312.5,455.0 L311.3,458.2 L310.9,461.6 L310.0,464.9 L310.5,468.3 L312.3,471.4 L312.5,474.9 L311.2,478.1 L311.0,481.6 L310.0,484.9 L310.8,487.6 L312.0,490.1 L313.7,492.3 L315.0,494.8 M324.9,450.0 L328.4,450.1 L331.4,452.2 L334.9,452.5 L335.8,455.8 L336.0,459.2 L337.4,462.4 L336.5,465.1 L335.3,467.6 L333.2,469.7 L332.4,472.4 L330.9,475.0 L329.5,477.7 L327.4,479.9 L327.6,483.0 L327.3,486.1 L328.2,489.2 L327.4,492.3 L329.1,494.8 L330.8,497.3 L332.4,499.8 L333.0,502.9 L334.2,505.9 L334.0,509.2 L334.9,512.3 M300.0,484.9 L303.2,486.2 L306.5,487.1 L310.0,487.4 L313.4,487.9 L316.5,489.3 L319.9,489.8 L322.5,490.5 L324.8,491.9 L327.4,492.3 M427.1,445.0 L429.8,445.4 L431.9,447.5 L434.3,448.6 L437.1,449.0 L439.6,450.0 L442.9,449.2 L446.2,448.4 L449.5,447.5 L452.2,446.9 L454.6,445.5 L457.5,446.3 L460.0,445.0 M444.5,452.5 L445.6,455.5 L446.3,458.6 L447.0,461.7 L447.0,464.9 L446.6,467.5 L444.9,469.8 L444.5,472.4 L442.4,474.6 L439.9,476.2 L437.1,477.4 L432.1,477.4 M444.8,407.4 L443.7,410.7 L443.6,414.2 L442.3,417.4 L444.0,419.6 L444.2,422.4 L445.2,424.9 L446.3,427.4 L447.3,429.8 L448.3,432.5 L450.3,434.6 L450.5,437.6 L452.3,439.8 L450.7,442.2 L450.4,445.1 L449.0,447.5 L447.3,449.8 L446.5,453.1 L445.6,456.4 L444.8,459.8 L445.7,462.8 L446.6,465.9 L446.8,469.1 L447.3,472.2 L449.4,474.4 L450.5,477.3 L452.3,479.7 M427.4,447.3 L429.6,449.0 L432.6,449.3 L434.8,451.1 L437.3,452.3 L440.7,451.8 L443.8,450.1 L447.3,449.8 L450.5,449.6 L453.6,449.2 L456.6,447.7 L459.8,447.3 L462.2,445.9 L465.0,445.3 L467.2,443.6 L469.7,442.3 L472.1,440.9 L475.0,440.4 L477.4,438.9 L479.7,437.3 L482.0,435.5 L484.5,433.7 L487.2,432.3 L489.5,430.9 L492.1,429.8 L495.0,429.2 L497.1,427.4 L499.5,426.0 L501.7,424.5 L503.7,422.7 L505.8,421.1 L507.1,418.5 L509.6,417.4 L512.1,416.2 L514.9,415.5 L517.4,414.2 L519.6,412.4 L522.2,413.3 L524.6,414.8 L527.0,416.3 L529.5,417.4 M474.7,439.8 L474.9,443.1 L474.7,446.5 L474.7,449.8 L477.5,450.5 L479.7,452.2 L482.2,453.5 L484.7,454.8 L486.6,456.9 L487.6,459.5 L487.8,462.6 L489.7,464.7 L488.4,468.0 L487.4,471.2 L487.2,474.7 L490.4,475.7 L493.7,476.8 L497.1,477.2 L500.6,476.9 L503.9,476.1 L507.1,474.7 L508.5,472.3 L511.0,471.1 L512.5,468.8 L514.6,467.2 M457.3,459.8 L459.6,461.6 L462.4,462.8 L464.7,464.7 L465.5,468.1 L465.8,471.5 L467.2,474.7 L469.0,476.7 L471.2,478.2 L472.8,480.3 L474.7,482.2 L476.4,484.6 L477.5,487.5 L479.7,489.7 L483.1,490.2 L486.4,491.0 L489.7,492.1 L492.2,491.1 L494.4,489.1 L497.2,488.5 L499.6,487.2 M429.8,479.7 L432.0,481.5 L434.8,482.2 L437.5,483.1 L439.8,484.7 L443.1,485.5 L446.4,486.4 L449.8,487.2 L452.6,488.4 L455.1,490.0 L457.3,492.1 L459.9,492.5 L462.3,493.5 L464.7,494.6 L468.0,493.7 L471.3,492.7 L474.7,492.1 M454.8,492.1 L456.9,493.7 L458.9,495.5 L460.3,497.8 L462.2,499.6 L464.5,501.3 L467.2,502.3 L469.7,503.5 L472.2,504.6 L475.4,504.2 L478.4,502.9 L481.6,503.1 L484.7,502.1 L487.8,502.1 L490.9,502.2 L494.0,502.3 L497.1,502.1 M489.7,452.3 L492.1,451.0 L494.5,449.5 L497.0,448.2 L499.6,447.3 L502.8,446.1 L506.3,445.6 L509.6,444.8 L512.0,443.0 L514.7,441.6 L517.1,439.8 L519.8,439.9 L522.1,441.3 L524.5,442.3 M519.6,447.3 L520.8,450.1 L523.2,452.1 L524.5,454.8 L524.5,457.9 L524.6,461.0 L524.9,464.1 L524.5,467.2 L522.3,469.3 L521.5,472.4 L519.6,474.7 L516.9,475.6 L514.8,477.7 L512.4,479.0 L509.6,479.7 M385.0,380.0 L385.3,382.7 L386.7,385.0 L388.1,387.3 L388.5,389.9 L389.2,392.4 L390.0,395.0 L388.6,397.3 L388.5,400.2 L387.4,402.6 L385.3,404.7 L385.0,407.4 L385.5,410.8 L387.1,413.9 L387.5,417.4 L385.1,418.4 L382.6,419.3 L380.0,419.9 M399.9,404.9 L398.7,407.3 L397.8,409.8 L396.5,412.2 L395.5,414.7 L395.0,417.4 L396.4,419.9 L397.6,422.6 L399.1,425.0 L400.6,427.6 L402.4,429.8 L406.2,429.8 L409.9,429.8 L412.7,428.3 L415.1,426.4 L417.8,424.7 L419.9,422.4 M404.9,395.0 L408.1,395.0 L411.0,396.7 L414.4,396.1 L417.4,397.4 L420.6,397.2 L423.6,396.3 L426.7,395.6 L429.8,395.0 L432.8,393.6 L434.9,391.3 L437.2,389.2 L439.8,387.5 M395.0,429.8 L397.3,431.5 L399.7,432.8 L402.4,433.7 L404.9,434.8 L406.3,437.2 L407.5,439.8 L408.7,442.3 L409.9,444.8 L412.2,446.3 L415.0,447.0 L417.5,448.4 L419.9,449.8 L422.4,448.6 L424.9,447.3 M380.0,484.7 L382.6,485.8 L385.1,486.9 L387.3,488.8 L390.0,489.7 L393.2,491.0 L396.6,491.3 L399.9,492.1 L402.4,490.8 L404.7,489.2 L407.3,488.1 L409.9,487.2 L413.4,487.5 L416.5,488.9 L419.9,489.7 L422.3,491.6 L425.2,492.9 L427.0,495.8 L429.8,497.1 M404.9,479.7 L405.6,482.5 L406.3,485.4 L407.1,488.2 L407.8,491.1 L408.5,493.9 L409.2,496.8 L409.9,499.6 L409.5,502.8 L408.2,505.8 L407.5,508.9 L407.4,512.1 L408.8,514.4 L411.5,515.5 L413.1,517.6 L414.9,519.6 L418.2,520.2 L421.5,518.8 L424.9,519.6 L427.6,519.9 L429.8,521.6 L432.3,522.6 L434.6,524.1 L437.3,524.5 M387.5,519.6 L389.8,521.2 L392.4,522.1 L394.6,524.0 L397.4,524.5 L399.9,525.8 L402.4,527.1 L404.8,528.5 L407.4,529.5 L410.0,531.1 L412.5,532.7 L414.9,534.5 M464.7,509.6 L468.1,508.9 L471.3,507.7 L474.7,507.1 L478.0,507.8 L481.3,507.4 L484.7,507.1 L488.0,506.3 L491.2,504.9 L494.6,504.6 M492.3,285.0 L493.0,287.9 L493.4,290.9 L493.7,294.0 L494.2,297.0 L494.8,299.9 L493.6,302.9 L492.8,306.0 L492.9,309.3 L492.3,312.4 L495.6,313.1 L498.9,314.2 L502.2,314.9 L505.0,314.6 L507.1,312.7 L509.7,311.9 L512.4,311.3 L514.7,309.9 L515.5,307.2 L517.0,304.8 L519.1,302.8 L519.7,299.9 M519.7,304.9 L522.0,306.2 L524.7,306.6 L527.2,307.4 L530.3,306.0 L534.0,306.3 L537.1,304.9 L539.5,306.0 L542.0,307.0 L544.6,307.4 L546.9,308.9 L549.4,309.6 L552.1,309.9 L554.5,308.1 L556.8,306.2 L559.6,304.9 M489.8,347.3 L491.7,349.6 L493.1,352.3 L494.8,354.8 L497.3,357.3 L499.8,359.8 L503.2,360.1 L506.5,361.0 L509.7,362.2 L510.8,364.8 L512.1,367.3 L513.7,369.6 L514.7,372.2 L518.0,373.0 L521.3,372.4 L524.7,372.2 L528.2,372.4 L531.4,373.7 L534.6,374.7 L537.3,373.8 L539.6,372.2 M444.9,407.1 L447.0,408.8 L448.5,411.0 L451.1,412.2 L452.4,414.6 L451.9,418.0 L450.2,421.1 L449.9,424.5 L451.7,427.1 L453.4,429.7 L455.9,431.8 L457.4,434.5 L459.9,436.2 L462.3,437.9 L464.9,439.5 M469.8,414.6 L472.5,415.5 L474.7,417.3 L477.3,418.4 L479.8,419.6 L482.6,419.0 L484.8,417.2 L487.2,415.7 L489.8,414.6 L492.2,415.8 L494.3,417.5 L495.8,419.9 L498.5,420.8 L500.5,422.4 L502.2,424.5 L504.5,422.5 L507.2,421.3 L509.7,419.6 M304.8,594.9 L307.3,597.7 L308.6,601.1 L311.5,601.7 L314.4,601.2 L317.3,601.1 L321.1,601.2 L324.8,599.9 L328.1,600.6 L331.4,601.7 L334.7,602.4 L338.1,602.8 L341.5,603.4 L344.7,604.9 L348.2,604.7 L351.5,603.7 L354.7,602.4 L357.5,600.9 L360.7,600.4 L363.4,598.6 L365.1,595.9 L365.6,592.7 L367.1,589.9 L369.7,588.2 L372.1,586.2 M314.8,602.4 L315.0,605.1 L316.5,607.3 L317.3,609.8 L315.1,612.0 L314.3,615.0 L312.3,617.3 L314.8,618.0 L317.2,619.3 L319.8,619.8 L323.1,619.0 L326.4,618.7 L329.8,618.6 L331.0,621.0 L333.1,622.7 L334.7,624.8 M339.7,604.9 L340.1,607.5 L341.7,609.7 L342.2,612.3 L341.8,615.0 L340.8,617.4 L339.7,619.8 L342.5,621.3 L344.7,623.6 M344.7,612.3 L347.9,613.5 L351.4,612.9 L354.7,613.6 L357.2,611.8 L359.7,609.8 L362.0,608.5 L364.7,608.2 L367.1,607.4 L369.7,608.0 L372.2,608.9 L374.6,609.8 L377.9,608.8 L381.2,608.5 L384.6,608.6 M374.6,570.0 L376.8,572.8 L379.6,575.0 L383.0,575.6 L386.3,576.2 L389.6,577.4 L392.8,576.2 L396.1,575.5 L399.5,575.0 L401.9,573.7 L404.3,572.6 L407.0,572.5 M384.6,579.9 L386.9,582.6 L389.6,584.9 L392.9,585.5 L396.3,586.1 L399.5,587.4 L402.2,585.1 L404.5,582.4 M489.8,251.8 L493.7,251.5 L497.3,249.9 L501.1,250.4 L504.8,251.8 L507.6,251.1 L509.8,249.3 L512.2,248.0 M491.7,283.6 L494.9,283.8 L497.9,284.7 L501.0,285.4 L504.6,283.9 L508.5,283.6 L512.3,282.9 L516.0,281.7 L518.9,282.3 L521.6,283.6 M495.4,287.3 L494.8,290.4 L495.3,293.5 L495.4,296.6 L493.7,298.6 L491.7,300.4 L492.3,303.1 L492.0,306.0 L492.8,308.7 L492.6,311.6 L495.3,312.8 L498.3,312.3 L501.0,313.5 L504.8,312.5 L508.5,311.6 M530.9,231.2 L531.3,234.0 L532.2,236.8 L531.9,239.7 L532.8,242.4 L533.9,246.1 L534.7,249.9 L534.4,253.6 L534.7,257.4 M517.9,257.4 L521.6,256.5 L525.3,255.5 L528.4,254.9 L531.5,254.7 L534.7,254.6 L538.3,253.5 L542.1,253.6 L544.7,252.6 L547.5,252.9 L550.0,251.8 M519.7,281.7 L522.5,281.0 L525.4,281.0 L528.0,279.7 L530.9,279.8 L533.5,278.7 L535.8,277.1 L538.4,276.1 L540.9,274.8 L543.3,273.3 L545.9,272.3 L547.4,269.1 L550.0,266.7 M519.7,307.9 L523.4,306.6 L527.2,306.0 L531.0,306.5 L534.7,307.9 L538.3,306.4 L542.1,306.0 M512.2,332.1 L515.1,331.5 L517.7,330.0 L520.6,329.2 L523.5,328.4 L527.2,329.0 L530.9,328.4 L534.8,327.9 L538.4,326.5 L542.0,328.0 L545.9,328.4 M448.7,220.0 L448.6,222.9 L450.2,225.5 L450.4,228.4 L450.6,231.2 L452.2,234.8 L452.4,238.7 L454.1,240.8 L456.0,242.6 L458.0,244.3 L461.2,244.1 L464.3,244.2 L467.4,244.3 L470.5,243.9 L473.7,243.3 L476.7,242.4 L477.3,238.6 L478.6,235.0 L481.6,234.5 L484.2,233.1 L487.3,232.2 L490.5,232.0 L493.6,231.2 L496.5,231.7 L499.2,233.1 M149.8,216.2 L152.7,216.4 L155.1,218.3 L158.0,218.5 L160.6,219.3 L163.3,219.7 L166.0,219.9 M149.8,253.5 L150.3,256.2 L149.5,258.8" fill="none" stroke="#9a9a9a" stroke-width="0.85"/>
<path d="M45.0,290.2 L59.9,296.7 L93.6,304.2 L106.6,310.7 L119.7,317.3 L145.9,328.5 L150.0,329.4 M294.3,220.4 L277.5,260.0 M278.4,260.0 L270.0,277.8 M290.6,322.6 L326.1,325.4 L344.8,326.4 L383.1,329.2 M412.1,410.8 L424.2,410.8 L425.1,418.3 L412.1,418.3 L412.1,410.8" fill="none" stroke="#1a1a1a" stroke-width="1.05"/>
<path d="M417.4,196.2 L424.9,198.0 L432.3,199.9 L441.7,202.7 L449.2,205.5 L454.8,209.3 L458.5,207.4 L462.2,209.3 L465.0,213.9 M484.1,514.4 L485.6,513.6 L487.1,515.3 L485.6,516.6 L484.1,514.4 M461.9,519.9 L464.7,518.0 L468.4,519.0 L472.1,517.7 L477.8,516.2" fill="none" stroke="#111" stroke-width="2.6" stroke-linejoin="round"/>
<path d="M174.3,127.1 L177.2,127.7 L179.9,129.0 L182.8,128.8 L185.5,129.9 L190.2,130.8 L194.9,130.8 L197.1,132.5 L199.5,133.6 L201.4,135.5 L202.1,132.8 L204.2,130.8 L207.0,129.5 L209.8,128.0 L213.5,126.9 L217.3,126.2 L219.5,124.5 L222.3,124.3 L224.8,123.4 L227.2,121.2 L230.4,120.6 L233.2,117.8 L233.7,113.1 L236.3,112.7 L238.9,111.7 L241.6,112.1 L242.5,116.8 L241.6,120.6 L244.7,121.3 L247.2,123.4 L248.3,125.8 L248.5,128.6 L250.0,130.8 L249.2,133.5 L247.2,135.5 L247.1,138.7 L245.7,141.7 L245.3,144.9 L244.4,149.5 L244.6,152.6 L246.1,155.2 L247.2,157.9 L248.9,160.0 L249.6,162.8 L251.9,164.5 L254.8,165.4 L256.5,168.1 L259.3,169.2 L262.1,166.4 L264.7,165.4 L267.2,164.5 L270.0,164.5 M174.3,127.1 L177.0,128.8 L178.9,131.2 L180.8,133.6 L181.2,137.5 L182.7,141.1 L184.2,143.4 L184.4,146.2 L185.5,148.6 L187.4,151.4 L190.6,152.6 L193.9,153.3 L194.9,156.1 M194.9,156.1 L192.4,157.2 L189.8,157.9 L187.4,158.9 L184.6,161.7 L182.8,164.6 L179.9,166.4 L177.9,168.2 L175.5,169.2 L172.8,169.6 L170.6,171.0 L167.8,172.5 L165.0,173.8 L164.0,177.6 L161.2,174.8 L158.5,176.0 L155.6,176.6 L152.9,175.6 L150.0,174.8 M194.9,156.1 L197.7,157.2 L200.6,158.2 L203.3,159.8 L203.7,162.5 L204.8,164.9 L206.1,167.3 L207.0,170.0 L206.9,172.9 L207.4,175.7 L207.9,178.5 L207.7,181.4 L208.5,184.2 L209.7,186.9 L209.8,189.7 L208.0,193.2 L207.9,197.2 L210.3,198.6 L211.8,200.8 L213.6,202.8 L215.8,205.0 L218.9,206.0 L221.0,208.4 L220.5,204.7 L220.1,200.9 L221.3,198.1 L223.8,196.3 L228.5,196.3 L230.2,198.3 L232.2,200.0 L236.0,199.1 L237.7,196.8 L238.6,194.1 L239.7,191.6 L241.6,189.4 L241.9,186.5 L243.5,184.1 L246.4,184.5 L249.4,184.3 L252.4,184.3 L255.4,184.0 L258.4,184.1 M259.3,169.2 L258.7,172.1 L258.5,175.1 L259.4,178.1 L259.1,181.1 L259.3,184.1 L260.4,187.1 L259.6,190.4 L260.3,193.5 L261.3,196.1 L262.0,198.8 L264.0,200.9 L266.7,203.3 L270.0,204.7 M150.0,174.3 L147.4,172.7 L145.1,170.6 L142.1,169.6 L142.4,166.8 L142.2,163.9 L141.2,161.2 L139.0,158.6 L137.5,155.6 L134.8,157.6 L131.9,159.3 L127.2,159.3 L125.3,162.1 L122.5,162.2 L119.7,162.3 L116.9,162.4 L114.1,162.4 L111.3,162.5 L108.5,162.6 L105.7,162.6 L102.9,162.7 L102.8,165.7 L101.6,168.5 L102.0,171.5 L104.7,172.6 L107.6,171.5 L110.4,172.4 L111.9,175.0 L112.2,178.0 L109.4,178.5 L106.6,178.0 L103.0,179.3 L99.2,179.5 L99.0,182.2 L98.5,184.8 L98.9,187.6 L98.2,190.2 L100.9,191.0 L102.7,193.2 L104.8,194.9 L106.6,198.6 L107.8,201.3 L108.5,204.2 L108.1,206.9 L107.7,209.5 L107.3,212.2 L106.9,214.9 L106.5,217.6 L106.1,220.2 L105.7,222.9 L105.1,225.6 L104.6,228.3 L104.0,231.0 L103.5,233.7 L102.9,236.4 L102.3,239.2 L101.8,241.9 L101.2,244.6 L100.7,247.3 L100.1,250.0 L97.8,248.5 L95.4,247.2 L92.6,246.4 L89.8,247.2 L86.1,250.0 L83.2,250.1 L80.5,250.9 L77.6,251.2 L74.9,251.9 L72.2,252.8 L70.2,255.1 L67.4,255.6 L64.2,256.9 L61.5,258.9 L59.0,261.2 L57.7,264.0 L57.2,267.0 L57.1,270.0 M86.1,250.0 L83.3,250.7 L80.6,251.8 L77.6,250.7 L74.9,251.9 L72.0,253.2 L69.6,255.5 L66.4,256.5 L64.2,258.8 L61.6,260.5 L59.0,262.1 L58.3,265.5 L57.1,268.7 L55.8,271.9 L53.4,274.3 L53.2,277.7 L54.3,280.8 L50.6,281.9 L47.8,284.6 L46.4,287.4 L45.0,290.2 L43.1,293.9 L44.0,298.6 L45.9,301.1 L48.4,303.1 L49.6,306.1 L52.1,308.5 L53.4,311.7 L55.5,314.3 L57.1,317.3 L56.1,320.1 L54.3,322.5 L57.7,323.5 L61.2,322.8 L64.6,323.8 L67.2,326.7 L68.3,330.4 L70.9,331.3 L73.5,330.6 L76.2,330.0 L78.8,330.8 L81.4,330.7 L83.5,328.3 L86.6,327.3 L89.6,326.3 L91.7,323.8 L91.6,326.5 L91.4,329.2 L91.3,331.9 L91.2,334.6 L91.1,337.3 L91.0,340.0 L90.9,342.6 L90.7,345.3 L95.4,346.3 L98.4,346.3 L101.1,345.4 L103.8,344.4 L106.7,344.3 L109.5,344.8 L112.2,345.3 L115.7,345.7 L118.8,347.2 L121.9,345.7 L124.4,343.5 L127.2,341.6 L130.2,341.1 L132.8,339.7 L135.1,337.6 L137.5,335.6 L140.3,334.1 L143.1,333.0 L145.7,331.7 L147.8,329.4 L150.0,326.6 M150.0,323.7 L153.7,324.5 L157.5,324.7 L160.9,324.1 L163.9,322.7 L166.8,320.9 L169.5,320.1 L171.8,318.4 L174.3,317.2 L177.3,316.0 L180.6,316.5 L183.6,315.3 L184.8,311.9 L186.4,308.8 L188.3,306.0 L190.6,304.5 L192.1,302.2 L194.9,303.1 L197.7,302.1 L200.5,302.1 L203.3,302.2 L206.1,306.0 L207.4,308.4 L209.8,309.7 L211.9,312.3 L214.5,314.4 L217.7,313.3 L221.0,313.5 L223.7,313.5 L226.3,313.5 L228.9,313.5 L231.6,313.5 L234.2,313.5 L236.9,313.5 L239.5,313.5 L242.1,313.5 L244.8,313.5 L247.4,313.5 L250.1,313.5 L252.7,313.5 L255.3,313.5 L258.0,313.5 L260.6,313.5 L263.2,313.5 L265.9,313.5 L265.5,310.3 L265.9,307.2 L266.8,304.1 L268.2,301.1 L268.6,298.0 L268.7,294.8 L267.8,292.0 L268.8,289.1 L268.9,286.3 L267.8,283.6 L269.1,280.9 L270.0,277.9 M221.0,313.5 L221.1,316.3 L220.5,319.1 L221.0,321.9 L220.1,324.7 L221.3,327.6 L220.0,330.9 L220.9,333.9 L221.5,336.9 L222.0,340.0 M150.0,328.4 L153.8,328.7 L157.5,327.5 L160.3,327.4 L163.1,328.1 L165.9,327.5 L165.3,330.6 L166.4,333.7 L166.3,336.9 L165.9,340.0 M270.0,165.2 L273.7,163.4 L276.1,161.9 L278.5,160.4 L281.2,159.6 L284.9,158.8 L288.7,158.7 L291.5,159.1 L294.3,158.7 L297.4,157.4 L300.8,157.8 L300.8,153.1 L304.1,153.2 L307.4,153.1 L311.1,152.0 L314.9,151.2 L317.7,152.1 L318.6,155.0 L322.4,154.6 L326.1,155.9 L329.7,154.7 L333.6,154.0 L337.2,155.2 L341.0,155.9 L343.8,155.4 L346.6,155.0 L347.9,152.3 L351.0,151.2 L352.2,148.4 L353.7,145.8 L354.9,143.1 L355.0,140.0 M317.7,152.1 L318.7,155.2 L318.7,158.3 L318.6,161.5 L321.4,161.7 L323.4,163.8 L326.1,164.3 L329.0,165.2 L332.0,166.2 L334.5,168.0 L338.2,170.8 L340.1,175.5 L342.9,179.3 L344.0,182.0 L344.8,184.9 L345.4,187.7 L346.7,190.1 L348.5,192.3 L350.3,194.9 L351.3,197.9 L353.3,200.5 L354.1,203.6 L358.8,204.5 L361.6,202.6 L363.5,197.9 L366.0,195.6 L367.2,192.3 L369.2,190.6 L371.2,188.9 L372.8,186.7 L374.2,184.3 L376.0,182.4 L378.4,181.1 L381.4,180.0 L384.0,178.3 L385.9,177.4 L387.8,172.7 L387.3,169.9 L386.4,167.2 L386.8,164.3 L385.9,161.4 L383.9,159.2 L382.1,156.8 L380.2,154.5 L377.5,153.1 L375.8,150.9 L376.2,147.9 L374.7,145.6 L372.6,143.2 L371.9,140.0 M270.0,204.5 L273.7,207.3 L276.2,209.7 L279.3,211.0 L282.2,212.4 L285.0,213.8 L287.4,215.0 L289.6,216.6 L293.4,218.5 L298.0,216.6 L296.1,218.4 L294.3,220.4 M386.5,177.5 L387.5,182.1 L390.6,183.0 L393.1,185.0 L396.3,186.2 L398.7,188.7 L401.3,190.5 L404.3,191.5 L407.2,192.0 L409.9,193.4 L410.8,195.2 L414.2,195.1 L417.4,196.2 L421.3,196.4 L424.9,198.0 L428.4,199.6 L432.3,199.9 L435.3,201.5 L438.5,202.1 L441.7,202.7 L444.3,203.3 L446.8,204.1 L449.2,205.5 L452.2,207.1 L454.8,209.3 L458.5,207.4 L462.2,209.3 L463.7,211.6 L465.0,213.9 L467.0,217.0 L467.9,220.5 L469.8,222.3 L471.6,224.2 L474.2,222.0 L477.2,220.5 L480.7,222.2 L484.7,222.3 L486.8,224.3 L489.6,224.9 L492.1,226.1 L494.8,225.6 L497.4,226.9 L500.0,226.1 M442.6,203.6 L442.5,207.4 L441.7,211.1 L441.0,213.7 L440.7,216.4 L438.9,218.6 L438.1,221.2 L437.1,223.6 L436.1,226.1 L435.1,229.8 L434.2,233.6 L433.1,236.3 L431.1,238.5 L429.5,241.0 L428.7,244.0 L426.8,246.2 L424.9,248.5 L423.5,250.9 L421.2,252.4 L419.8,254.7 L417.4,256.0 L415.8,258.5 L413.3,260.0 L410.8,261.6 L408.8,263.4 L406.2,264.4 L410.8,265.3 L412.7,269.1 M410.8,265.3 L413.9,265.9 L416.9,266.3 L419.9,267.2 L423.0,267.2 L423.9,270.0 M500.0,235.4 L497.3,236.4 L494.6,237.6 L492.1,239.2 L490.6,241.7 L490.3,244.8 L489.5,247.6 L488.4,250.4 L489.2,254.1 L489.3,257.9 L488.2,260.9 L489.4,264.1 L488.4,267.2 L487.5,270.9 L487.5,274.7 L486.3,277.1 L486.4,279.9 L484.7,282.1 L480.8,282.5 L477.2,284.0 L474.4,284.6 L472.1,286.3 L469.7,287.8 L467.9,290.0 M500.0,226.8 L503.7,227.2 L507.5,228.7 L510.2,229.7 L513.1,229.6 L516.9,230.0 L520.6,228.7 L523.7,228.6 L526.8,228.3 L529.9,228.7 L532.7,229.8 L534.5,232.5 L537.4,233.4 L540.2,234.5 L542.3,236.6 L544.9,238.0 L547.7,239.0 L549.8,241.2 L552.3,242.7 L554.6,245.7 L557.9,247.4 L561.2,249.2 L563.6,252.1 L565.4,254.1 L567.9,255.2 L570.1,256.7 L574.8,259.0 L578.4,260.2 L582.2,260.1 L585.9,260.8 L589.7,260.8 M510.3,230.6 L511.4,233.6 L510.8,236.9 L512.1,239.9 L512.5,243.0 L513.6,246.1 L513.1,249.3 L514.3,252.3 L513.7,255.5 L514.0,258.6 L515.3,261.1 L516.8,263.4 L517.8,266.1 L518.7,269.1 L518.7,272.3 L518.7,275.4 L519.6,278.2 L519.3,281.2 L520.6,283.8 L524.3,284.8 L525.2,288.5 L524.3,292.2 L521.5,296.0 L521.5,299.8 L522.4,303.5 L520.1,305.9 L518.7,309.1 L515.0,311.9 L512.9,314.3 L509.5,315.0 L507.5,317.5 L504.8,318.7 L502.1,320.0 L500.0,322.1 M570.1,256.7 L567.0,258.9 L563.6,260.5 L561.9,263.4 L559.8,266.1 L558.6,269.0 L557.0,271.7 L554.0,273.9 L552.3,277.3 L550.5,281.0 L549.8,284.7 L549.5,288.5 L550.2,292.2 L550.5,296.0 L546.7,298.8 L543.4,297.5 L540.2,296.0 L536.4,295.4 L532.7,294.1 L529.9,294.9 L527.1,294.8 L524.3,294.1 M515.0,311.9 L515.6,314.9 L517.8,317.3 L518.7,320.3 L521.2,322.0 L524.3,322.1 L525.8,320.0 L527.7,318.1 L529.9,316.5 L532.3,315.4 L534.3,313.7 L536.8,312.8 L539.3,311.9 M344.3,155.8 L348.0,153.9 L350.8,150.2 L351.8,146.7 L353.6,143.6 L354.5,141.0 L355.7,138.5 L357.4,136.2 L359.1,133.3 L361.1,130.6 L363.9,127.8 L364.9,124.0 L367.7,125.0 L370.5,128.7 L371.5,131.5 L372.3,134.3 L372.0,138.1 L373.3,141.8 L373.6,145.2 L375.1,148.3 M270.0,291.8 L272.4,294.2 L273.7,297.4 L274.9,300.5 L275.9,303.7 L277.5,306.7 L277.2,309.7 L278.4,312.3 L280.5,314.5 L283.1,316.1 L285.3,318.2 L287.8,319.8 L290.6,322.6 M390.0,316.1 L388.0,318.6 L386.8,321.7 L386.0,324.2 L384.9,326.6 L384.0,329.2 L383.9,331.9 L381.7,334.0 L381.2,336.6 L380.7,339.3 L378.6,341.4 L378.4,344.1 L377.8,347.2 L378.1,350.4 L377.5,353.5 L377.7,357.3 L376.5,360.9 L377.9,364.6 L378.4,368.4 L378.6,372.2 L379.3,375.9 L380.3,380.0 M411.8,270.0 L411.7,273.9 L409.9,277.5 L408.0,279.3 L405.9,281.0 L404.3,283.1 L402.5,285.1 L400.9,287.1 L398.7,288.7 L397.8,291.7 L396.7,294.8 L396.8,298.0 L398.2,300.7 L398.7,303.6 L398.2,306.5 L396.5,308.8 L395.0,311.1 L393.2,314.0 L391.2,316.7 L389.1,319.4 L387.5,322.3 L386.1,325.4 L383.7,327.9 L382.3,330.6 L381.9,333.6 L380.5,336.2 L380.0,339.2 M423.9,270.0 L423.7,272.8 L424.0,275.7 L422.4,278.3 L423.0,281.2 L422.6,283.9 L421.0,286.2 L421.4,289.1 L420.2,291.5 L422.9,293.5 L424.9,296.2 L426.4,298.8 L428.6,300.8 L431.5,300.9 L434.2,301.8 L437.0,305.5 L434.2,309.3 L431.4,313.0 L429.7,315.5 L429.5,318.6 L431.9,321.4 L434.2,324.2 L435.7,326.8 L436.1,329.8 L438.3,331.3 L439.8,333.6 L443.1,333.9 L446.4,334.5 L449.2,334.5 M487.5,270.0 L487.6,273.8 L488.4,277.5 L486.7,280.0 L486.5,283.1 L483.5,284.0 L480.3,283.9 L477.2,284.0 L474.9,285.4 L471.9,285.1 L469.7,286.8 L468.3,289.1 L466.6,291.1 L464.1,292.4 L462.1,294.3 L459.5,294.9 L456.8,295.3 L454.8,297.1 L451.9,299.0 L450.1,301.8 L448.8,304.4 L447.4,307.1 L446.6,309.9 L446.4,313.0 L446.2,315.8 L445.4,318.6 L446.4,322.3 L446.4,326.1 L445.9,329.0 L446.5,331.7 L447.3,334.5 M449.2,334.5 L451.7,336.3 L452.9,339.2 L454.6,341.2 L456.6,342.9 L459.5,343.1 L462.2,343.8 L464.7,342.7 L467.1,341.7 L469.7,341.0 L472.2,338.7 L475.3,337.3 L475.4,334.2 L477.2,331.7 L475.9,329.0 L475.3,326.1 L478.0,324.0 L480.9,322.3 L484.0,324.1 L487.5,324.2 L492.1,325.1 L494.5,323.6 L497.7,324.1 L500.0,322.3 M447.3,334.5 L445.8,337.0 L443.7,339.0 L441.7,341.0 L438.9,343.5 L437.0,346.6 L436.0,349.3 L436.1,352.2 L438.0,354.0 L439.8,356.0 L441.1,359.6 L440.7,363.5 L440.6,366.3 L440.5,369.1 L439.3,371.8 L439.8,374.7 L440.8,378.3 L440.7,382.1 L441.3,384.7 L440.7,387.5 L441.7,390.0 M380.0,367.2 L383.7,367.2 L385.0,370.8 L384.7,374.7 L388.1,374.5 L391.5,375.2 L395.0,374.7 L397.9,374.2 L400.6,372.8 L403.9,374.5 L406.2,377.5 L409.9,378.4 L413.4,376.7 L417.4,376.5 L420.1,375.3 L423.0,375.6 L426.2,376.0 L429.2,374.5 L432.3,374.7 L435.1,375.1 L437.9,375.4 L440.7,374.7 M568.5,350.8 L567.0,353.9 L566.6,357.4 L565.7,360.0 L564.0,362.3 L562.9,364.9 L561.2,366.9 L559.2,368.6 L556.1,370.6 L553.6,373.3 L550.9,374.7 L547.9,375.1 L546.1,379.8 L546.5,382.6 L546.5,385.4 L546.7,388.2 L546.1,391.0 L545.4,393.6 L545.9,396.3 L546.4,398.9 L546.3,401.5 L546.1,404.1 L545.5,407.3 L546.7,410.3 L547.0,413.5 L546.8,416.4 L545.1,418.9 L544.6,421.8 L544.2,424.7 L542.4,428.2 L542.3,432.1 L542.7,434.9 L541.8,437.4 L541.4,440.0 M490.0,400.4 L492.6,402.1 L495.4,403.3 L498.1,404.6 L501.2,405.0 L504.1,405.9 L506.4,407.8 L508.7,409.7 L511.0,411.1 L512.4,413.5 L515.9,412.9 L519.3,414.3 L522.7,413.5 L525.5,414.8 L528.0,416.7 L531.1,417.2 M165.9,330.0 L166.3,333.8 L165.0,337.5 L165.8,341.2 L166.8,345.0 L167.0,348.7 L167.8,352.4 L168.5,355.6 L170.6,358.0 L173.8,359.8 L176.2,362.7 L179.9,365.5 L183.6,366.2 L187.4,366.4 L190.3,367.6 L193.0,369.3 L195.5,370.5 L198.3,371.2 L200.5,373.0 L203.4,373.6 L206.1,374.9 L208.9,376.3 L211.7,377.7 L214.1,380.2 L217.3,381.4 L221.1,381.0 L224.8,382.0 L227.6,382.6 L230.4,383.3 L234.1,385.1 L236.0,387.9 L235.9,391.8 L236.9,395.4 L237.1,398.5 L238.8,401.0 L236.0,404.8 L238.2,406.3 L239.7,408.5 L240.8,411.2 L240.7,414.1 L240.3,417.9 L241.6,421.6 L244.3,421.6 L247.0,421.6 L249.7,421.6 L252.4,421.6 L255.1,421.6 L257.8,421.6 L260.5,421.6 L263.2,421.6 L265.9,421.6 M221.0,330.0 L220.2,333.7 L221.0,337.5 L221.5,341.2 L222.0,345.0 L224.8,344.3 L227.5,346.1 L230.4,345.3 L233.1,346.4 L236.0,345.9 L238.7,346.7 L241.5,347.7 L244.4,347.8 L244.5,351.1 L243.5,354.3 L242.5,357.0 L242.5,359.9 L244.8,362.4 L246.3,365.5 L243.5,369.3 L242.7,372.1 L241.6,374.9 L238.8,378.6 L236.0,382.3 L234.1,385.1 M265.6,422.3 L265.5,426.2 L266.5,429.8 L268.1,432.1 L268.2,434.9 L269.3,437.3 L272.1,438.8 L275.0,440.1 L276.7,442.1 L278.7,443.8 L281.0,441.7 L283.6,440.0 L286.2,438.2 L289.0,437.4 L291.7,436.2 L294.7,435.7 L297.4,434.5 L301.1,435.3 L304.9,436.4 L307.4,437.5 L310.2,438.1 L312.3,440.1 L316.1,439.8 L319.8,439.2 L322.6,439.6 L325.4,440.1 L328.0,438.3 L331.0,437.3 L333.8,436.4 L333.8,439.2 L334.8,442.0 L331.0,443.8 L333.7,445.2 L336.6,445.7 L339.5,446.1 L342.2,446.6 L343.7,449.3 L344.1,452.2 L346.0,454.1 L347.9,456.0 L351.0,456.8 L353.8,458.2 L356.3,460.1 L359.1,461.6 L361.9,461.8 L364.3,463.4 L366.9,464.4 L369.8,464.5 L372.1,466.3 L374.0,470.9 L372.9,473.7 L372.1,476.5 L370.9,479.8 L368.4,482.1 M276.8,441.0 L277.3,444.9 L278.7,448.5 L277.3,451.2 L276.8,454.1 L276.6,457.2 L275.0,459.7 L274.0,462.2 L273.3,464.8 L272.1,467.2 L270.4,470.7 L270.3,474.7 M379.6,370.0 L379.3,373.9 L377.8,377.5 L375.9,379.7 L374.5,382.1 L374.0,385.0 L373.0,388.0 L372.2,391.1 L372.1,394.3 L371.4,397.6 L368.9,400.2 L368.4,403.6 L364.7,405.5 L362.8,408.3 L360.9,411.1 L357.7,412.3 L355.3,414.9 L352.9,416.2 L351.6,418.6 L350.2,421.7 L347.9,424.2 L345.5,426.7 L344.1,429.8 L342.0,431.8 L341.3,434.5 L341.6,437.9 L340.4,441.0 L341.6,443.7 L342.2,446.6 M441.0,380.0 L441.1,383.1 L441.5,386.2 L442.0,389.3 L443.6,392.0 L444.8,395.0 L444.5,398.1 L444.9,401.2 L444.8,404.3 L447.9,403.6 L450.4,401.5 L452.9,400.7 L454.8,398.8 L457.7,398.6 L459.7,396.8 L461.8,394.8 L464.7,394.4 L467.2,393.1 L470.9,392.9 L474.7,393.1 L476.5,395.2 L477.5,397.8 L482.1,398.7 L484.9,398.2 L487.3,399.8 L490.0,399.6 M444.8,404.3 L442.0,403.6 L440.1,401.5 L436.4,399.6 L433.6,402.4 L431.7,406.2 L431.6,409.9 L431.7,413.6 L430.7,416.4 L426.1,417.4 L425.3,421.1 L426.1,424.9 L427.2,428.5 L427.0,432.3 L426.6,435.0 L425.0,437.3 L424.2,439.8 L425.1,443.1 L426.1,446.4 L423.3,450.1 L419.9,450.8 L416.7,452.0 L413.7,451.1 L410.4,451.9 L407.4,451.0 L404.3,451.7 L401.2,452.0 L398.0,452.0 L395.2,453.7 L391.6,453.2 L388.7,454.8 L386.0,455.6 L383.5,456.9 L381.2,458.5 L379.6,461.9 L376.5,464.1 L374.7,466.3 L373.7,468.9 L372.8,471.6 M370.0,471.6 L373.7,472.0 L377.5,472.5 L381.2,473.4 L385.0,473.5 L387.8,473.8 L390.6,473.9 L393.5,474.2 L396.2,475.3 L398.0,478.1 L400.8,477.2 L403.6,477.2 L406.4,476.1 L409.2,476.4 L412.1,476.9 L414.9,476.3 L418.6,476.1 L422.3,475.3 L423.7,478.5 L426.1,480.9 L426.6,483.9 L428.3,486.4 L428.8,489.4 L429.8,492.1 L431.8,493.9 L433.6,495.9 L436.4,500.0 M545.4,420.0 L544.7,423.2 L542.9,426.0 L542.6,429.3 L543.0,432.5 L541.3,435.5 L541.7,438.7 L541.6,441.8 L539.8,444.3 L538.4,447.4 L536.1,449.9 L536.0,453.7 L535.1,457.4 L534.4,461.1 L535.1,464.9 L533.7,467.7 L532.3,470.5 L530.6,473.4 L528.6,476.1 L526.2,478.5 L524.9,481.7 L522.9,484.8 L520.2,487.3 L518.8,490.1 L517.4,492.9 L516.9,496.6 L516.4,500.4 L515.5,503.1 L515.5,506.0 L512.8,506.8 L510.4,508.2 L508.0,509.7 L505.8,511.4 L503.4,512.5 L502.4,517.2 L499.7,517.7 L496.9,518.3 L494.0,517.3 L491.2,518.1 L487.5,517.4 L483.7,517.2 L480.0,519.1 M535.1,449.9 L532.1,447.7 L528.6,446.2 L525.9,447.1 L523.0,446.9 L520.2,447.1 L516.4,449.9 L514.6,453.6 L515.5,458.3 L513.6,459.3 L515.2,461.5 L517.4,463.0 L516.3,465.7 L515.5,468.6 L514.2,471.8 L511.8,474.2 L509.5,476.1 L507.1,477.9 L505.2,479.8 L505.2,484.5 L505.0,488.3 L506.2,492.0 L509.6,491.8 L513.1,492.0 L516.4,492.9 M504.3,487.3 L503.2,490.3 L501.2,492.7 L499.5,495.4 L498.7,498.5 L496.8,500.4 L493.9,501.9 L490.8,502.8 L487.5,503.2 L485.1,504.5 L482.6,505.3 L480.0,506.0 M270.6,480.0 L271.6,482.5 L272.7,484.9 L273.4,487.5 L273.1,490.6 L274.1,493.7 L273.4,496.8 L273.0,500.6 L272.4,504.3 L275.2,505.3 L278.0,505.6 L280.8,505.9 L283.6,506.2 L286.4,505.5 L289.2,505.6 L292.0,505.4 L294.9,505.2 L297.1,506.6 L299.6,507.4 L301.7,509.0 L304.2,509.9 L304.4,513.8 L306.1,517.4 L307.3,520.4 L307.0,523.7 L307.9,526.7 L309.8,531.4 L313.6,531.4 L317.3,530.5 L321.1,531.2 L324.8,532.3 L326.6,536.1 L325.7,539.8 L324.8,543.6 L323.0,545.7 L323.7,548.8 L322.0,551.0 L321.0,554.8 L324.8,555.3 L328.5,555.7 L332.2,558.5 L333.3,562.2 L333.2,566.0 L333.1,568.9 L334.1,571.6 L332.4,574.1 L332.2,577.2 M334.1,565.0 L336.7,565.5 L339.4,565.1 L341.9,566.3 L344.6,566.6 L347.2,566.9 L349.9,567.8 L352.8,567.9 L355.6,568.6 L358.4,568.8 M325.7,533.3 L327.8,530.8 L328.9,527.7 L330.4,524.9 L331.6,522.4 L333.9,520.6 L334.1,517.6 L336.0,515.5 L338.6,514.6 L340.9,512.8 L343.5,511.8 L346.2,510.6 L348.1,508.1 L350.9,507.1 L353.5,505.5 L354.5,502.6 L356.5,500.6 L357.7,497.3 L360.3,495.0 L360.8,492.3 L362.0,489.9 L363.1,487.5 M343.5,512.7 L346.0,511.7 L348.7,512.3 L351.3,512.2 L353.9,512.6 L356.5,512.1 L359.3,512.2 L362.0,512.3 L364.7,512.6 L367.3,513.8 L370.0,513.6 M332.2,577.2 L329.5,577.4 L327.2,579.0 L324.8,580.0 L322.7,581.6 L319.9,581.9 L317.8,583.7 L315.4,584.7 L313.2,587.0 L310.8,588.9 L307.9,590.3 L305.9,592.2 L304.6,594.8 M332.2,577.2 L335.0,577.8 L337.9,577.4 L340.7,577.1 L343.5,577.2 L346.2,577.8 L349.1,577.6 L351.7,579.4 L354.7,579.1 L357.3,579.8 L359.6,581.2 L362.1,581.9 M480.0,517.1 L477.2,517.5 L475.0,519.5 L472.1,519.9 L469.4,520.2 L467.1,521.6 L464.7,522.7 L461.6,524.2 L459.1,526.4 L456.1,527.6 L453.5,529.3 L449.6,529.0 L446.0,530.2 L443.3,531.0 L440.7,532.1 L438.5,533.9 L436.3,535.9 L433.3,536.7 L431.0,538.6 L428.5,540.1 L425.8,541.3 L423.6,543.3 L421.1,545.2 L418.2,546.5 L416.1,548.9 L414.1,550.7 L412.6,552.9 L410.5,554.5 L409.5,557.5 L407.7,560.1 L408.3,562.9 L407.7,565.7 L407.7,568.5 L408.8,571.5 L408.3,574.7 L408.6,577.9 L408.8,581.7 L407.7,585.3 L407.2,589.1 L406.7,592.8 L404.9,594.7 L402.9,596.5 L401.1,598.4 L398.2,599.8 L396.7,602.9 L393.6,604.0 L390.5,605.4 L388.0,607.8 L386.2,610.0 M429.2,490.0 L431.1,492.8 L432.9,495.6 L436.6,497.5 L436.5,501.2 L436.6,505.0 L437.3,507.9 L438.5,510.6 L438.9,513.6 L440.4,516.2 L444.1,515.0 L447.9,514.3 L450.9,512.9 L454.4,512.6 L457.2,510.6 L460.7,508.9 L464.7,508.7 L467.3,508.0 L469.7,507.1 L472.1,505.9 L474.6,504.4 L477.4,504.8 L480.0,504.0 M360.0,512.4 L363.7,513.2 L367.5,513.4 L371.1,514.6 L375.0,514.3 L378.8,514.9 L382.4,516.2 L386.0,517.9 L389.9,518.0 L391.3,520.8 L392.7,523.6 L393.2,526.4 L393.6,529.3 L394.9,532.5 L397.4,534.9 L399.1,537.4 L399.3,540.5 L401.6,541.8 L404.2,542.5 L406.7,543.3 L408.6,547.0 L411.1,548.2 L413.3,549.8 M360.0,568.5 L363.9,568.2 L367.5,566.6 L371.2,563.8 L374.9,562.7 L378.7,562.0 L381.8,561.9 L384.9,562.0 L388.0,562.0 L391.2,562.1 L394.2,560.8 L397.4,561.0 L400.8,560.8 L404.2,560.6 L407.7,560.7 M360.0,582.5 L362.5,583.5 L364.8,584.9 L367.5,585.3 L369.6,586.9 L370.8,589.5 L373.2,590.8 L375.0,592.8 L377.4,594.1 L380.1,594.9 L382.4,596.5 L386.2,597.5 L389.9,598.4 L390.0,602.4 L391.8,605.9 L389.9,610.0 M320.0,639.0 L323.7,640.8 L326.5,643.6 L330.3,646.4 L332.1,648.3 L334.0,651.1 L336.4,653.9 L339.6,655.8 L343.4,654.9 L346.2,653.0 L348.0,649.7 L349.4,651.1 L348.5,653.9 L346.2,657.7 L342.4,660.5 L340.1,663.3 L337.3,666.1 L336.8,668.9 L336.4,671.7 L338.2,672.1 L339.9,669.9 L342.4,668.9 L344.9,667.7 L347.1,666.1 L349.2,664.5 L350.8,662.3 L351.9,660.0 L353.2,657.7 L355.0,653.0 L357.4,649.3 M304.7,596.4 L302.2,597.8 L301.1,600.6 L298.2,601.7 L296.6,603.9 L294.9,606.2 L293.3,609.0 L291.1,611.1 L288.3,612.7 L286.0,614.3 L283.6,615.9 L281.8,618.2 L280.1,620.4 L277.4,621.4 L280.3,620.7 L283.3,621.1 L286.2,620.3 L289.7,621.4 L292.7,623.6 L294.4,626.3 L297.1,628.0 L299.3,630.2 L302.8,630.5 L305.8,632.3 L308.1,633.6 L310.1,635.4 L312.3,636.7 L315.3,638.1 L318.0,639.9 L321.1,641.1 M504.8,228.4 L502.4,230.2 L500.6,232.4 L499.2,235.0 L496.5,235.8 L494.5,237.8 L492.5,241.0 L490.7,244.3 M265.9,421.6 L265.6,422.3 M270.3,474.7 L270.9,477.3 L270.6,480.0 M368.4,482.1 L365.3,484.4 L363.1,487.5 M480.0,506.0 L480.0,504.0 M587.4,331.1 L584.5,333.2 L582.4,336.0 L579.6,338.3 L577.4,341.0 L574.8,342.1 L573.4,344.6 L571.2,346.0 L568.4,350.4 M552.5,270.0 L553.7,273.7 L553.1,276.6 L551.2,278.7 M551.2,278.7 L556.2,280.0 L559.1,279.0 L562.2,278.4 L564.9,276.9 L567.2,275.4 L569.9,275.0 L568.7,280.0 L568.7,283.7 L572.4,286.2 L577.4,285.0 L579.6,282.7 L581.1,280.0 L583.6,278.7 L586.6,280.1 L589.8,280.0 L592.9,280.1 L595.6,281.4 L598.6,281.8 L603.6,281.8 M551.2,278.7 L550.1,281.1 L549.6,283.7 L548.7,286.2 L549.7,289.0 L550.0,292.0 L550.0,294.9 L550.0,297.4 L546.2,298.7 L543.3,297.0 L540.0,296.2 M550.0,297.4 L555.0,298.7 L559.9,297.4 L562.7,296.6 L564.9,294.9 L567.4,293.6 L569.9,292.4 L572.4,294.9 L572.5,298.2 L571.2,301.2 L571.9,303.9 L573.6,306.1 L577.4,306.1 L580.2,304.7 L582.4,302.4 L585.3,300.7 L588.6,299.9 L591.8,298.8 L594.8,297.4 L597.3,294.9 L600.9,296.2 L604.8,296.2 M540.0,309.9 L542.9,311.8 L546.2,312.4 L549.3,314.3 L552.5,316.1 L555.0,317.9 L557.4,319.8 L560.6,318.1 L563.7,316.1 L568.7,317.4 L571.3,317.7 L573.8,318.5 L576.1,319.8 L581.1,318.6 L583.9,316.2 L587.4,314.9 L590.3,315.2 L593.2,314.6 L596.1,314.9 L598.8,315.1 M557.4,321.1 L559.9,324.8 L562.4,326.2 L565.0,327.2 L567.4,328.6 L570.5,330.5 L573.6,332.3 L577.4,334.8 L580.2,335.8 L582.4,337.9 M559.9,324.8 L561.5,327.1 L560.8,330.1 L562.4,332.3 L562.0,336.1 L561.2,339.8 L559.8,342.2 L557.4,343.5 L558.7,347.3 L562.4,350.0 M357.4,649.3 L360.3,647.9 L362.5,645.5 L365.7,643.5 L368.7,641.2 L371.2,639.5 L372.3,636.4 L374.9,634.9 L375.9,632.3 L378.6,631.1 L379.9,628.7 L381.5,626.0 L383.6,623.7 L385.2,621.1 L386.1,618.1 L387.1,615.2 L388.6,612.5 L390.0,610.6 L391.3,608.0 L393.1,605.9 L395.2,604.0 L397.1,600.8 L400.0,598.5 M357.5,646.1 L360.5,644.2 L362.5,641.2 L364.1,638.7 L365.6,636.2 L366.3,633.3 L367.4,630.6 L368.7,625.6 L368.6,622.5 L368.7,619.3 L370.6,622.5 L373.1,623.7 L376.2,623.1 L378.0,621.8 L379.3,623.7 L378.0,628.7 L374.9,631.2 L371.2,634.3 L370.6,638.0 L367.4,641.2 L365.1,642.9 L362.5,644.3 L358.1,646.8 M589.8,260.6 L594.8,261.8 L597.3,263.5 L598.6,266.2 L600.2,269.1 L601.1,272.4 L601.4,275.7 L602.9,278.7 L604.2,281.7 L604.2,284.9 L604.6,288.6 L604.8,292.4 L604.2,297.4 L602.7,300.3 L602.3,303.6 L601.2,306.6 L601.1,309.8 L600.4,313.1 L598.6,316.0 L596.9,319.3 L594.8,322.3 L592.8,324.6 L591.7,327.6 L589.8,330.0 L587.4,331.0" fill="none" stroke="#111" stroke-width="1.15" stroke-linejoin="round"/>
<!-- legend -->
<g stroke="#111" stroke-width="1.5">
<rect x="74.5" y="507" width="27" height="20" fill="#ec1c24"/>
<rect x="74.5" y="537.8" width="27" height="19.6" fill="#f58220"/>
<rect x="74.5" y="568.3" width="27" height="19.6" fill="#ffff00"/>
<rect x="74.5" y="597.8" width="27" height="19.6" fill="#fff"/>
</g>
<g font-size="12.6" font-weight="bold" fill="#111">
<text x="110.6" y="520.9" textLength="62" lengthAdjust="spacingAndGlyphs">Muito Alto</text>
<text x="110.6" y="551.4" textLength="23.1" lengthAdjust="spacingAndGlyphs">Alto</text>
<text x="110.6" y="583.1" textLength="59.6" lengthAdjust="spacingAndGlyphs">Moderado</text>
<text x="110.6" y="612.3" textLength="31" lengthAdjust="spacingAndGlyphs">Baixo</text>
</g>
<text x="52.2" y="722.8" font-size="14" font-weight="bold" fill="#111" textLength="184" lengthAdjust="spacingAndGlyphs">Válida para o dia 04/06/2024</text>
<!-- compass -->
<g id="compass" transform="translate(484.9,626.1)">
<path d="M0,-20.5 L3.2,-6 L0,-6Z M0,20.5 L-3.2,6 L0,6Z M-20,0 L-6,-3.2 L-6,0Z M20,0 L6,3.2 L6,0Z" fill="#000"/>
<path d="M0,-20.5 L-3.2,-6 L0,-6Z M0,20.5 L3.2,6 L0,6Z M-20,0 L-6,3.2 L-6,0Z M20,0 L6,-3.2 L6,0Z" fill="#fff" stroke="#000" stroke-width="0.5"/>
<circle r="8.3" fill="#fff" stroke="#000" stroke-width="1.1"/>
<path d="M0,0 L0,-6.5 A6.5,6.5 0 0 1 6.5,0Z M0,0 L0,6.5 A6.5,6.5 0 0 1 -6.5,0Z" fill="#000"/>
<g font-size="9" text-anchor="middle" fill="#000">
<text x="0" y="-23.5" style="font-family:'Liberation Serif',serif">N</text>
<text x="0" y="30" style="font-family:'Liberation Serif',serif">S</text>
<text x="-26.2" y="3.2" style="font-family:'Liberation Serif',serif">W</text>
<text x="25.6" y="3.2" style="font-family:'Liberation Serif',serif">E</text>
</g>
</g>
<!-- scale bar -->
<g>
<rect x="398" y="678.2" width="155" height="9.6" fill="#000"/>
<rect x="417.7" y="679.2" width="18.5" height="7.6" fill="#fff"/>
<rect x="456.3" y="679.2" width="18.8" height="7.6" fill="#fff"/>
</g>
<g font-size="11" fill="#111" text-anchor="middle">
<text x="397.6" y="672.8">600</text>
<text x="436.2" y="672.8">300</text>
<text x="475" y="672.8">0</text>
<text x="561.5" y="672.8">600 km</text>
<text x="484" y="703.6">1:20000000</text>
</g>
<g font-size="12.7" fill="#111" text-anchor="middle">
<text x="483.4" y="727.4" textLength="257.4" lengthAdjust="spacingAndGlyphs">Sistemas de Coordenadas: GCS WGS - 1984</text>
<text x="483.4" y="741.4" textLength="113.6" lengthAdjust="spacingAndGlyphs">Datum: WGS - 1984</text>
</g>
</svg>
</body></html>
